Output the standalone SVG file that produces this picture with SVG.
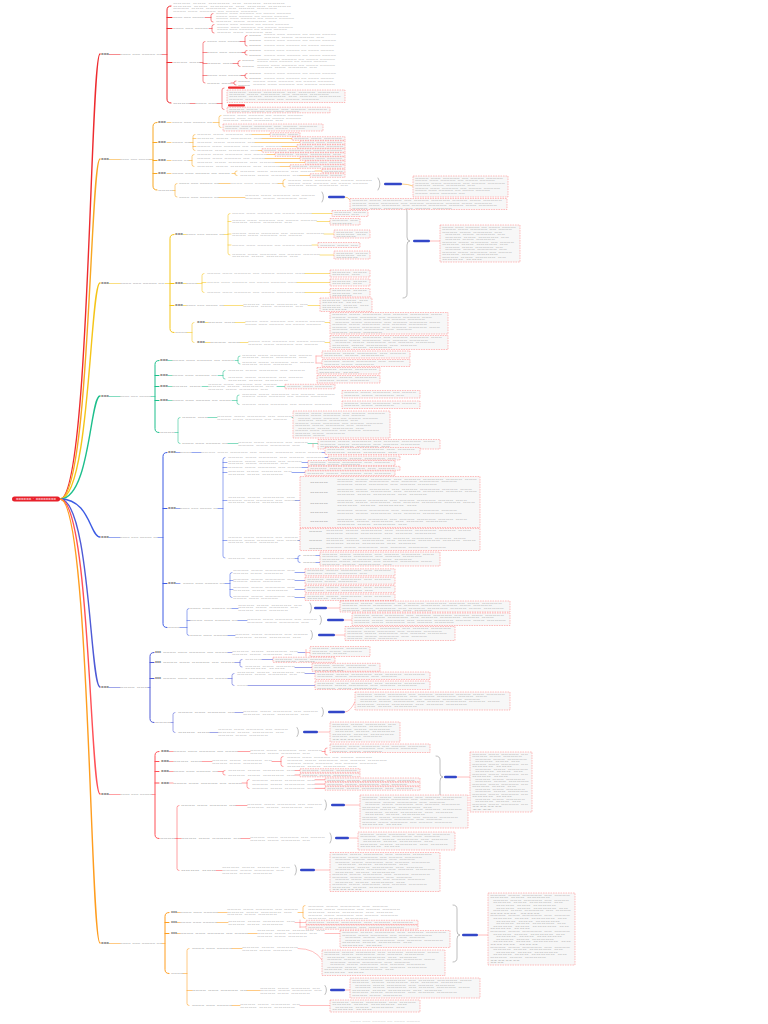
<svg xmlns="http://www.w3.org/2000/svg" width="768" height="1024" viewBox="0 0 768 1024">
<style>
text{font-family:"Liberation Sans",Arial,sans-serif}
.t{font-size:2.2px;fill:#a6a6a6}
.m{font-size:2.4px;fill:#8c8c8c}
.h{font-size:2.6px;fill:#5a5a5a;font-weight:bold}
.c path{fill:none;stroke-width:.55;stroke-linecap:round}
.c .k{stroke-width:1.4}
.c .tk{stroke-width:1}
.s1{stroke:#ee2b2f}.s2{stroke:#f8a722}.s3{stroke:#f5c518}.s4{stroke:#1dbf8c}
.s5{stroke:#3c5be4}.s6{stroke:#4e5ad6}.s7{stroke:#ff5157}.s8{stroke:#ff9d1e}
.lk{stroke:#ff8a8a}.par{stroke:#888}
.bx{fill:#f7f7f7;stroke:#ff7070;stroke-width:.45;stroke-dasharray:1.6 .9}
.pl{fill:#3347c8}.rb{fill:#ee2b2f}
</style>
<rect width="768" height="1024" fill="#fff"/>
<g id="connectors" class="c">
<g class="s1">
<path class="k" d="M60,499 C90,499 90,54 100,54"/>
<path d="M109,54.5 H120 M162,54.5 H167"/>
<path class="tk" d="M171,6 Q167,6 167,10 V99 Q167,103 171,103 M167,17.5 H172 M167,28.5 H172 M167,62.5 H172"/>
<path d="M205,17.5 H211 M213,13.5 Q211,13.5 211,15.5 V20 Q211,22 213,22"/>
<path d="M209,28.5 H212 M214,24.5 Q212,24.5 212,26.5 V31 Q212,33 214,33"/>
<path d="M200,62.5 H203 M205,41.5 Q203,41.5 203,43.5 V81 Q203,83 205,83 M203,52.5 H207 M203,63.5 H207 M203,75.5 H207"/>
<path d="M240,41.5 H245 M247,35.5 Q245,35.5 245,37.5 V44 Q245,46 247,46"/>
<path d="M242,52.5 H245 M247,50.5 Q245,50.5 245,52 V53.5 Q245,55 247,55"/>
<path d="M233,63.5 H238 M240,60.5 Q238,60.5 238,62.5 V64.5 Q238,66.5 240,66.5"/>
<path d="M241,75.5 H245 M247,73.5 Q245,73.5 245,75 V76.5 Q245,78.5 247,78.5"/>
<path d="M231,83 H234 M236,81 Q234,81 234,82.5 V83.5 Q234,85 236,85"/>
<path d="M190,103.5 H195 M217,103.5 H222 M224,88 Q222,88 222,90 V107.5 Q222,109.5 224,109.5"/>
</g>
<g class="s2">
<path class="k" d="M60,499 C90,499 90,159 100,159"/>
<path d="M109,159.5 H120 M150,159.5 H153"/>
<path class="tk" d="M157,122.5 Q153,122.5 153,126.5 V186 Q153,190 157,190 M153,142.5 H157 M153,160.5 H157 M153,173.5 H157"/>
<path d="M167,122.5 H171 M213,122.5 H219 M221,115.5 Q219,115.5 219,117.5 V125.5 Q219,127.5 221,127.5"/>
<path d="M167,142.5 H171 M190,142.5 H193 M195,134.5 Q193,134.5 193,136.5 V148.5 Q193,150.5 195,150.5 M193,138.5 H196 M193,146.5 H196 M252,134.5 H270 M262,138.5 H292 M255,142.5 H300 M282,146.5 H297 M258,150.5 H262"/>
<path d="M167,160.5 H171 M189,160.5 H192 M194,154.5 Q192,154.5 192,156.5 V164.5 Q192,166.5 194,166.5 M267,154.5 H275 M265,158.5 H300 M275,162.5 H305 M280,166.5 H290"/>
<path d="M167,173.5 H171 M232,173.5 H235 M237,171 Q235,171 235,172.5 V174 Q235,175.5 237,175.5 M315,171 H322 M300,175.5 H310"/>
<path d="M173,190.5 H175 M177,183.5 Q175,183.5 175,185.5 V195 Q175,197 177,197"/>
<path d="M219,183.5 H230 M278,183.5 H283 M285,179.5 Q283,179.5 283,181.5 V185 Q283,187 285,187 M402,184 Q408,184 413,186"/>
<path d="M219,197.5 H245 M345,197 Q348,197 350,200"/>
</g>
<g class="s3">
<path class="k" d="M60,499 C90,499 90,283 100,283"/>
<path d="M109,283.5 H120 M165,283.5 H170"/>
<path class="tk" d="M174,234.5 Q170,234.5 170,238.5 V328.5 Q170,332.5 174,332.5 M170,283.5 H174 M170,305.5 H174"/>
<path d="M183,234.5 H186 M224,234.5 H228 M230,213.5 Q228,213.5 228,215.5 V253 Q228,255 230,255 M228,221.5 H231 M228,234 H231 M228,245 H231"/>
<path d="M312,213.5 H332 M317,221.5 H330 M324,234 H334 M312,245 H318 M320,255 H334"/>
<path d="M183,283.5 H186 M197,283.5 H202 M204,273.5 Q202,273.5 202,275.5 V290.5 Q202,292.5 204,292.5 M202,282.5 H206 M305,273.5 H330 M297,282.5 H330 M305,292.5 H330"/>
<path d="M183,305.5 H186 M224,305.5 H243 M308,305.5 H320"/>
<path d="M187,332.5 H192 M194,322.5 Q192,322.5 192,324.5 V340.5 Q192,342.5 194,342.5 M205,322.5 H208 M205,342.5 H210 M235,322.5 H245 M240,342.5 H248 M325,322.5 H330 M325,342.5 H330"/>
</g>
<g class="s4">
<path class="k" d="M60,499 C90,499 90,396 100,396"/>
<path d="M109,396.5 H120 M151,396.5 H155"/>
<path class="tk" d="M159,360.5 Q155,360.5 155,364.5 V428.5 Q155,432.5 159,432.5 M155,375.5 H159 M155,386.5 H159 M155,400.5 H159"/>
<path d="M168,360.5 H172 M235,360.5 H238 M240,356 Q238,356 238,358 V362 Q238,364 240,364"/>
<path d="M168,375.5 H172 M218,375.5 H223 M225,370.5 Q223,370.5 223,372.5 V377 Q223,379 225,379"/>
<path d="M168,386.5 H172 M202,386.5 H208 M277,386.5 H285"/>
<path d="M168,400.5 H172 M232,400.5 H237 M239,395 Q237,395 237,397 V402.5 Q237,404.5 239,404.5"/>
<path d="M175,432.5 H178 M180,417.5 Q178,417.5 178,419.5 V441.5 Q178,443.5 180,443.5 M208,417.5 H217 M292,417.5 H293 M228,443.5 H238 M308,443.5 H318"/>
</g>
<g class="s5">
<path class="k" d="M60,499 C90,499 90,537 100,537"/>
<path d="M109,537.5 H120 M158,537.5 H163"/>
<path class="tk" d="M167,452.5 Q163,452.5 163,456.5 V623.5 Q163,627.5 167,627.5 M163,508.5 H167 M163,583.5 H167"/>
<path d="M176,452.5 H180 M192,452.5 H201 M322,452.5 H325"/>
<path d="M176,508.5 H180 M218,508.5 H223 M225,457.5 Q223,457.5 223,459.5 V556 Q223,558 225,558 M223,462.5 H227 M223,467.5 H227 M223,472.5 H227 M223,500.5 H227 M223,540.5 H227"/>
<path d="M325,457.5 H328 M302,462.5 H308 M302,467.5 H308 M292,472.5 H305 M295,500.5 H302 M298,540.5 H302"/>
<path d="M307,482.5 Q305,482.5 305,484.5 V519.5 Q305,521.5 307,521.5 M305,492.5 H309 M305,503.5 H309 M305,512.5 H309 M328,482.5 H336 M328,492.5 H336 M328,503.5 H336 M328,512.5 H336 M328,521.5 H336"/>
<path d="M307,531.5 Q305,531.5 305,533.5 V546.5 Q305,548.5 307,548.5 M305,540.5 H309 M322,531.5 H325 M322,540.5 H325 M322,548.5 H325"/>
<path d="M295,558.5 H298 M300,555.5 Q298,555.5 298,557 V561 Q298,562.5 300,562.5 M316,555.5 H320 M316,562.5 H320"/>
<path d="M176,583.5 H180 M225,583.5 H230 M232,572.5 Q230,572.5 230,574.5 V595.5 Q230,597.5 232,597.5 M230,580.5 H233 M230,589.5 H233 M295,572.5 H305 M295,580.5 H305 M295,589.5 H305 M295,597.5 H305"/>
<path d="M180,627.5 H187 M189,608.5 Q187,608.5 187,610.5 V633.5 Q187,635.5 189,635.5 M187,620.5 H190 M232,608.5 H238 M238,620.5 H247 M228,635.5 H235"/>
</g>
<g class="s6">
<path class="k" d="M60,499 C90,499 90,687 100,687"/>
<path d="M109,687.5 H120 M148,687.5 H150"/>
<path class="tk" d="M154,652.5 Q150,652.5 150,656.5 V718.5 Q150,722.5 154,722.5 M150,662.5 H154 M150,678.5 H154"/>
<path d="M228,652.5 H232 M298,652.5 H305"/>
<path d="M235,662.5 H240 M242,659.5 Q240,659.5 240,661 V665.5 Q240,667 242,667 M262,659.5 H273 M295,667.5 H312"/>
<path d="M228,678.5 H232 M234,673.5 Q232,673.5 232,675.5 V683.5 Q232,685.5 234,685.5 M305,673.5 H315 M248,685.5 H315"/>
<path d="M171,722.5 H173 M175,712.5 Q173,712.5 173,714.5 V730.5 Q173,732.5 175,732.5 M235,712.5 H243 M210,732.5 H218"/>
</g>
<g class="s7">
<path class="k" d="M60,499 C90,499 90,794 100,794"/>
<path d="M109,794.5 H120 M152,794.5 H155"/>
<path class="tk" d="M159,751.5 Q155,751.5 155,755.5 V834.5 Q155,838.5 159,838.5 M155,761.5 H159 M155,771.5 H159 M155,783 H159"/>
<path d="M169,751.5 H173 M238,751.5 H250 M322,751.5 H325 M327,748 Q325,748 325,749.5 V753.5 Q325,755 327,755"/>
<path d="M169,761.5 H173 M202,761.5 H212 M272,761.5 H281 M283,756.5 Q281,756.5 281,758.5 V764.5 Q281,766.5 283,766.5"/>
<path d="M169,771.5 H173 M218,771.5 H223 M225,770.5 Q223,770.5 223,772 V773.5 Q223,775 225,775 M295,770.5 H300 M295,775 H300"/>
<path d="M169,783 H173 M242,783 H247 M249,779.5 Q247,779.5 247,781.5 V786.5 Q247,788.5 249,788.5 M315,779.8 H325 M315,784.1 H325 M315,788.4 H325"/>
<path d="M175,838.5 H177 M179,805.5 Q177,805.5 177,807.5 V868.5 Q177,870.5 179,870.5 M177,838.5 H181 M236,805.5 H247 M241,838.5 H250 M216,870.5 H222"/>
</g>
<g class="s8">
<path class="k" d="M60,499 C90,499 90,943 100,943"/>
<path d="M109,943.5 H120 M162,943.5 H165"/>
<path class="tk" d="M169,912.5 Q165,912.5 165,916.5 V969.5 Q165,973.5 169,973.5 M165,922.5 H169 M165,933.5 H169"/>
<path d="M177,912.5 H180 M218,912.5 H227 M298,912.5 H303 M305,905.5 Q303,905.5 303,907.5 V916.5 Q303,918.5 305,918.5"/>
<path d="M177,922.5 H180 M217,922.5 H228 M177,933.5 H180 M248,933.5 H257"/>
<path d="M183,973.5 H187 M189,948.5 Q187,948.5 187,950.5 V1003.5 Q187,1005.5 189,1005.5 M187,990.5 H192 M232,948.5 H242 M247,990.5 H260 M232,1005.5 H240"/>
</g>
<g class="lk">
<path d="M295,922.5 H300 M300,920 V927.5 M300,922.5 H306 M300,927 H306"/>
<path d="M325,933.5 H340 M298,948.5 Q315,948.5 322,960 M345,990 H350 M300,1005.5 H330 M478,935 H488"/>
<path d="M345,805 H360 M349,838 H358 M315,870 H330 M457,777 H470 M318,667.5 H312"/>
<path d="M345,712 Q350,712 355,702 M318,732 H330 M306,649.5 V656 M306,652.5 H310"/>
<path d="M327,608 H340 M344,620 H352 M335,635 H345 M430,241 H440 M316,356 V363 M316,356 H322 M316,363 H322 M313,443.5 V447"/>
</g>
<g class="par">
<path d="M310,603 Q313,608 310,613 M320,615.5 Q323,620 320,624.5 M311,630.5 Q314,635 311,639.5"/>
<path d="M322,707.5 Q325,712 322,716.5 M297,727.5 Q300,732 297,736.5"/>
<path d="M325,800 Q328,805 325,810 M330,833 Q333,838 330,843 M295,865 Q298,870 295,875"/>
<path d="M325,985.5 Q328,990 325,994.5"/>
<path d="M378,178 Q382,184 378,190 M322,192 Q325,197 322,202"/>
<path d="M403,208 Q407,208 407,212 V237 Q407,241 410,241 Q407,241 407,245 V294 Q407,298 403,298"/>
<path d="M436,756 Q440,756 440,760 V773 Q440,777 443,777 Q440,777 440,781 V796 Q440,800 436,800"/>
<path d="M453,905 Q457,905 457,909 V931 Q457,935 460,935 Q457,935 457,939 V958 Q457,962 453,962"/>
</g>
</g>
<g id="root"><rect x="12" y="496.5" width="48" height="5" rx="2.5" fill="#e8202a"/><text x="16" y="500" font-size="2.8" fill="#fff" textLength="40" lengthAdjust="spacingAndGlyphs">xxxxxx · xxxxxxxx</text></g>
<g id="n1">
<text class="h" x="101" y="55.3" textLength="8" lengthAdjust="spacingAndGlyphs">xxx</text>
<text class="m" x="120" y="55.3" textLength="42" lengthAdjust="spacingAndGlyphs">xxxx xxx xxxxx xx</text>
<g id="n1-1"><text class="t" x="173" y="4.3" textLength="112" lengthAdjust="spacingAndGlyphs">xxxx xxx xxxxx xx xxxx xxxxx</text><text class="t" x="173" y="6.8" textLength="118" lengthAdjust="spacingAndGlyphs">xxxx xxx xxxxx xx xxxx xxxxx</text><text class="t" x="173" y="9.3" textLength="104" lengthAdjust="spacingAndGlyphs">xxxx xxx xxxxx xx xxxx xxxxx</text><text class="t" x="173" y="11.8" textLength="84" lengthAdjust="spacingAndGlyphs">xxxx xxx xxxxx xx xxxx xxxxx</text></g>
<g id="n1-2"><text class="m" x="173" y="18.3" textLength="31" lengthAdjust="spacingAndGlyphs">xxxx xxx xxxxx</text><text class="t" x="216" y="14.3" textLength="75" lengthAdjust="spacingAndGlyphs">xxxx xxx xxxxx xx xxxx xxxxx</text><text class="t" x="216" y="16.8" textLength="72" lengthAdjust="spacingAndGlyphs">xxxx xxx xxxxx xx xxxx xxxxx</text><text class="t" x="216" y="19.3" textLength="78" lengthAdjust="spacingAndGlyphs">xxxx xxx xxxxx xx xxxx xxxxx</text><text class="t" x="216" y="21.8" textLength="60" lengthAdjust="spacingAndGlyphs">xxxx xxx xxxxx xx</text></g>
<g id="n1-3"><text class="m" x="173" y="29.3" textLength="35" lengthAdjust="spacingAndGlyphs">xxxx xxx xxxxx</text><text class="t" x="217" y="25.3" textLength="72" lengthAdjust="spacingAndGlyphs">xxxx xxx xxxxx xx xxxx xxxxx</text><text class="t" x="217" y="27.8" textLength="76" lengthAdjust="spacingAndGlyphs">xxxx xxx xxxxx xx xxxx xxxxx</text><text class="t" x="217" y="30.3" textLength="70" lengthAdjust="spacingAndGlyphs">xxxx xxx xxxxx xx xxxx xxxxx</text><text class="t" x="217" y="32.8" textLength="55" lengthAdjust="spacingAndGlyphs">xxxx xxx xxxxx xx</text></g>
<g id="n1-4"><text class="m" x="173" y="63.3" textLength="27" lengthAdjust="spacingAndGlyphs">xxxx xxx</text>
<text class="m" x="207" y="42.3" textLength="33" lengthAdjust="spacingAndGlyphs">xxxx xxx xxxxx</text><text class="m" x="249" y="36.3" textLength="12" lengthAdjust="spacingAndGlyphs">xxxx</text><text class="t" x="264" y="35.3" textLength="72" lengthAdjust="spacingAndGlyphs">xxxx xxx xxxxx xx xxxx xxxxx</text><text class="t" x="264" y="37.6" textLength="60" lengthAdjust="spacingAndGlyphs">xxxx xxx xxxxx xx</text><text class="m" x="249" y="41.3" textLength="12" lengthAdjust="spacingAndGlyphs">xxxx</text><text class="t" x="264" y="41" textLength="72" lengthAdjust="spacingAndGlyphs">xxxx xxx xxxxx xx xxxx xxxxx</text><text class="m" x="249" y="46.3" textLength="12" lengthAdjust="spacingAndGlyphs">xxxx</text><text class="t" x="264" y="46" textLength="70" lengthAdjust="spacingAndGlyphs">xxxx xxx xxxxx xx xxxx xxxxx</text>
<text class="m" x="207" y="53.3" textLength="35" lengthAdjust="spacingAndGlyphs">xxxx xxx xxxxx</text><text class="m" x="249" y="51.3" textLength="12" lengthAdjust="spacingAndGlyphs">xxxx</text><text class="t" x="264" y="51" textLength="70" lengthAdjust="spacingAndGlyphs">xxxx xxx xxxxx xx xxxx xxxxx</text><text class="m" x="249" y="55.8" textLength="12" lengthAdjust="spacingAndGlyphs">xxxx</text><text class="t" x="264" y="55.5" textLength="72" lengthAdjust="spacingAndGlyphs">xxxx xxx xxxxx xx xxxx xxxxx</text>
<text class="m" x="207" y="64.3" textLength="26" lengthAdjust="spacingAndGlyphs">xxxx xxx</text><text class="m" x="242" y="61.3" textLength="12" lengthAdjust="spacingAndGlyphs">xxxx</text><text class="t" x="257" y="59.8" textLength="78" lengthAdjust="spacingAndGlyphs">xxxx xxx xxxxx xx xxxx xxxxx</text><text class="t" x="257" y="62.1" textLength="70" lengthAdjust="spacingAndGlyphs">xxxx xxx xxxxx xx xxxx xxxxx</text><text class="m" x="242" y="67.3" textLength="12" lengthAdjust="spacingAndGlyphs">xxxx</text><text class="t" x="257" y="65.8" textLength="78" lengthAdjust="spacingAndGlyphs">xxxx xxx xxxxx xx xxxx xxxxx</text><text class="t" x="257" y="68.1" textLength="60" lengthAdjust="spacingAndGlyphs">xxxx xxx xxxxx xx</text>
<text class="m" x="207" y="76.3" textLength="34" lengthAdjust="spacingAndGlyphs">xxxx xxx xxxxx</text><text class="m" x="249" y="74.3" textLength="12" lengthAdjust="spacingAndGlyphs">xxxx</text><text class="t" x="264" y="74" textLength="72" lengthAdjust="spacingAndGlyphs">xxxx xxx xxxxx xx xxxx xxxxx</text><text class="m" x="249" y="79.1" textLength="12" lengthAdjust="spacingAndGlyphs">xxxx</text><text class="t" x="264" y="78.8" textLength="70" lengthAdjust="spacingAndGlyphs">xxxx xxx xxxxx xx xxxx xxxxx</text>
<text class="m" x="207" y="83.6" textLength="24" lengthAdjust="spacingAndGlyphs">xxxx xxx</text><text class="m" x="238" y="81.8" textLength="12" lengthAdjust="spacingAndGlyphs">xxxx</text><text class="t" x="253" y="81.5" textLength="80" lengthAdjust="spacingAndGlyphs">xxxx xxx xxxxx xx xxxx xxxxx</text><text class="m" x="238" y="85.6" textLength="12" lengthAdjust="spacingAndGlyphs">xxxx</text><text class="t" x="253" y="85.3" textLength="82" lengthAdjust="spacingAndGlyphs">xxxx xxx xxxxx xx xxxx xxxxx</text></g>
<g id="n1-5"><text class="m" x="173" y="104.3" textLength="17" lengthAdjust="spacingAndGlyphs">xxxx</text><text class="m" x="195" y="104.3" textLength="22" lengthAdjust="spacingAndGlyphs">xxxx xxx</text>
<rect class="rb" x="228" y="86.6" width="17" height="2.2" rx="1"/>
<rect class="bx" x="227" y="90" width="118" height="12.5"/><text class="t" x="229" y="92.5" textLength="110" lengthAdjust="spacingAndGlyphs">xxxx xxx xxxxx xx xxxx xxxxx</text><text class="t" x="229" y="94.9" textLength="100" lengthAdjust="spacingAndGlyphs">xxxx xxx xxxxx xx xxxx xxxxx</text><text class="t" x="229" y="97.3" textLength="112" lengthAdjust="spacingAndGlyphs">xxxx xxx xxxxx xx xxxx xxxxx</text><text class="t" x="229" y="99.7" textLength="90" lengthAdjust="spacingAndGlyphs">xxxx xxx xxxxx xx xxxx xxxxx</text>
<rect class="rb" x="228" y="104.2" width="17" height="2.2" rx="1"/>
<rect class="bx" x="227" y="107.2" width="103" height="5.6"/><text class="t" x="229" y="109.5" textLength="98" lengthAdjust="spacingAndGlyphs">xxxx xxx xxxxx xx xxxx xxxxx</text><text class="t" x="229" y="111.9" textLength="70" lengthAdjust="spacingAndGlyphs">xxxx xxx xxxxx xx xxxx xxxxx</text></g>
</g>
<g id="n2">
<text class="h" x="101" y="160.3" textLength="8" lengthAdjust="spacingAndGlyphs">xxx</text>
<text class="m" x="120" y="160.3" textLength="30" lengthAdjust="spacingAndGlyphs">xxxx xxx xxxxx</text>
<g id="n2-1"><text class="h" x="158" y="123.3" textLength="8" lengthAdjust="spacingAndGlyphs">xxx</text><text class="m" x="172" y="123.3" textLength="40" lengthAdjust="spacingAndGlyphs">xxxx xxx xxxxx xx</text><text class="t" x="223" y="116.3" textLength="80" lengthAdjust="spacingAndGlyphs">xxxx xxx xxxxx xx xxxx xxxxx</text><text class="t" x="223" y="118.8" textLength="78" lengthAdjust="spacingAndGlyphs">xxxx xxx xxxxx xx xxxx xxxxx</text><text class="t" x="223" y="121.3" textLength="60" lengthAdjust="spacingAndGlyphs">xxxx xxx xxxxx xx</text><rect class="bx" x="223" y="124" width="100" height="7"/><text class="t" x="225" y="126.6" textLength="92" lengthAdjust="spacingAndGlyphs">xxxx xxx xxxxx xx xxxx xxxxx</text><text class="t" x="225" y="129.3" textLength="80" lengthAdjust="spacingAndGlyphs">xxxx xxx xxxxx xx xxxx xxxxx</text></g>
<g id="n2-2"><text class="h" x="158" y="143.3" textLength="8" lengthAdjust="spacingAndGlyphs">xxx</text><text class="m" x="172" y="143.3" textLength="18" lengthAdjust="spacingAndGlyphs">xxxx xx</text>
<text class="t" x="197" y="135.3" textLength="55" lengthAdjust="spacingAndGlyphs">xxxx xxx xxxxx xx</text><rect class="bx" x="270" y="132.7" width="30" height="3.6"/><text class="t" x="272" y="135.3" textLength="26" lengthAdjust="spacingAndGlyphs">xxxx xxx</text>
<text class="t" x="197" y="139.3" textLength="65" lengthAdjust="spacingAndGlyphs">xxxx xxx xxxxx xx</text><rect class="bx" x="292" y="136.7" width="53" height="3.6"/><text class="t" x="294" y="139.3" textLength="48" lengthAdjust="spacingAndGlyphs">xxxx xxx xxxxx</text>
<text class="t" x="197" y="143.3" textLength="58" lengthAdjust="spacingAndGlyphs">xxxx xxx xxxxx xx</text><rect class="bx" x="300" y="140.7" width="45" height="3.6"/><text class="t" x="302" y="143.3" textLength="40" lengthAdjust="spacingAndGlyphs">xxxx xxx xxxxx</text>
<text class="t" x="197" y="147.3" textLength="85" lengthAdjust="spacingAndGlyphs">xxxx xxx xxxxx xx xxxx xxxxx</text><rect class="bx" x="297" y="144.7" width="48" height="3.6"/><text class="t" x="299" y="147.3" textLength="44" lengthAdjust="spacingAndGlyphs">xxxx xxx xxxxx</text>
<text class="t" x="197" y="151.3" textLength="61" lengthAdjust="spacingAndGlyphs">xxxx xxx xxxxx xx</text><rect class="bx" x="262" y="148.7" width="83" height="3.6"/><text class="t" x="264" y="151.3" textLength="78" lengthAdjust="spacingAndGlyphs">xxxx xxx xxxxx xx xxxx xxxxx</text></g>
<g id="n2-3"><text class="h" x="158" y="161.3" textLength="8" lengthAdjust="spacingAndGlyphs">xxx</text><text class="m" x="172" y="161.3" textLength="17" lengthAdjust="spacingAndGlyphs">xxxx xx</text>
<text class="t" x="197" y="155.3" textLength="70" lengthAdjust="spacingAndGlyphs">xxxx xxx xxxxx xx xxxx</text><rect class="bx" x="275" y="152.7" width="70" height="3.6"/><text class="t" x="277" y="155.3" textLength="64" lengthAdjust="spacingAndGlyphs">xxxx xxx xxxxx xx</text>
<text class="t" x="197" y="159.3" textLength="68" lengthAdjust="spacingAndGlyphs">xxxx xxx xxxxx xx xxxx</text><rect class="bx" x="300" y="156.7" width="45" height="3.6"/><text class="t" x="302" y="159.3" textLength="40" lengthAdjust="spacingAndGlyphs">xxxx xxx xxxxx</text>
<text class="t" x="197" y="163.3" textLength="78" lengthAdjust="spacingAndGlyphs">xxxx xxx xxxxx xx xxxx</text><rect class="bx" x="305" y="160.7" width="40" height="3.6"/><text class="t" x="307" y="163.3" textLength="35" lengthAdjust="spacingAndGlyphs">xxxx xxx xxxxx</text>
<text class="t" x="197" y="167.3" textLength="83" lengthAdjust="spacingAndGlyphs">xxxx xxx xxxxx xx xxxx</text><rect class="bx" x="290" y="164.7" width="55" height="3.6"/><text class="t" x="292" y="167.3" textLength="50" lengthAdjust="spacingAndGlyphs">xxxx xxx xxxxx</text></g>
<g id="n2-4"><text class="h" x="158" y="174.3" textLength="8" lengthAdjust="spacingAndGlyphs">xxx</text><text class="m" x="172" y="174.3" textLength="58" lengthAdjust="spacingAndGlyphs">xxxx xxx xxxxx xx xxxx</text>
<text class="t" x="240" y="171.8" textLength="75" lengthAdjust="spacingAndGlyphs">xxxx xxx xxxxx xx xxxx</text><rect class="bx" x="322" y="169.2" width="23" height="3.6"/><text class="t" x="324" y="171.8" textLength="19" lengthAdjust="spacingAndGlyphs">xxxx</text>
<text class="t" x="240" y="176.3" textLength="60" lengthAdjust="spacingAndGlyphs">xxxx xxx xxxxx xx</text><rect class="bx" x="310" y="173.7" width="35" height="3.6"/><text class="t" x="312" y="176.3" textLength="30" lengthAdjust="spacingAndGlyphs">xxxx xxx</text></g>
<g id="n2-5"><text class="m" x="158" y="191.3" textLength="15" lengthAdjust="spacingAndGlyphs">xxxx</text>
<text class="m" x="179" y="184.3" textLength="40" lengthAdjust="spacingAndGlyphs">xxxx xxx xxxxx xx</text><text class="t" x="230" y="184.3" textLength="48" lengthAdjust="spacingAndGlyphs">xxxx xxx xxxxx xx</text>
<text class="t" x="288" y="181" textLength="84" lengthAdjust="spacingAndGlyphs">xxxx xxx xxxxx xx xxxx xxxxx</text><text class="t" x="288" y="183.7" textLength="80" lengthAdjust="spacingAndGlyphs">xxxx xxx xxxxx xx xxxx xxxxx</text><text class="t" x="288" y="186.4" textLength="60" lengthAdjust="spacingAndGlyphs">xxxx xxx xxxxx xx</text>
<rect class="pl" x="384" y="182.7" width="18" height="2.6" rx="1.3"/>
<rect class="bx" x="413" y="176" width="95" height="21"/><text class="t" x="415" y="178.6" textLength="88" lengthAdjust="spacingAndGlyphs">xxxx xxx xxxxx xx xxxx xxxxx</text><text class="t" x="415" y="181.1" textLength="80" lengthAdjust="spacingAndGlyphs">xxxx xxx xxxxx xx xxxx xxxxx</text><text class="t" x="415" y="183.6" textLength="90" lengthAdjust="spacingAndGlyphs">xxxx xxx xxxxx xx xxxx xxxxx</text><text class="t" x="415" y="186.1" textLength="60" lengthAdjust="spacingAndGlyphs">xxxx xxx xxxxx xx</text><text class="t" x="415" y="188.6" textLength="85" lengthAdjust="spacingAndGlyphs">xxxx xxx xxxxx xx xxxx xxxxx</text><text class="t" x="415" y="191.1" textLength="75" lengthAdjust="spacingAndGlyphs">xxxx xxx xxxxx xx xxxx xxxxx</text><text class="t" x="415" y="193.6" textLength="50" lengthAdjust="spacingAndGlyphs">xxxx xxx xxxxx xx</text>
<text class="m" x="179" y="198.3" textLength="40" lengthAdjust="spacingAndGlyphs">xxxx xxx xxxxx xx</text><text class="t" x="245" y="196.2" textLength="70" lengthAdjust="spacingAndGlyphs">xxxx xxx xxxxx xx xxxx</text><text class="t" x="245" y="198.9" textLength="62" lengthAdjust="spacingAndGlyphs">xxxx xxx xxxxx xx</text>
<rect class="pl" x="328" y="195.7" width="17" height="2.6" rx="1.3"/>
<rect class="bx" x="350" y="198.5" width="157" height="11"/><text class="t" x="352" y="201" textLength="150" lengthAdjust="spacingAndGlyphs">xxxx xxx xxxxx xx xxxx xxxxx xxxx xxx xxxxx</text><text class="t" x="352" y="203.5" textLength="140" lengthAdjust="spacingAndGlyphs">xxxx xxx xxxxx xx xxxx xxxxx xxxx xxx xxxxx</text><text class="t" x="352" y="206" textLength="145" lengthAdjust="spacingAndGlyphs">xxxx xxx xxxxx xx xxxx xxxxx xxxx xxx xxxxx</text><text class="t" x="352" y="208.5" textLength="100" lengthAdjust="spacingAndGlyphs">xxxx xxx xxxxx xx xxxx xxxxx</text></g>
</g>
<g id="n3">
<text class="h" x="101" y="284.3" textLength="8" lengthAdjust="spacingAndGlyphs">xxx</text>
<text class="m" x="120" y="284.3" textLength="44" lengthAdjust="spacingAndGlyphs">xxxx xxx xxxxx xx</text>
<g id="n3-1"><text class="h" x="175" y="235.3" textLength="8" lengthAdjust="spacingAndGlyphs">xxx</text><text class="m" x="186" y="235.3" textLength="38" lengthAdjust="spacingAndGlyphs">xxxx xxx xxxxx xx</text>
<text class="t" x="232" y="214.3" textLength="80" lengthAdjust="spacingAndGlyphs">xxxx xxx xxxxx xx xxxx xxxxx</text>
<text class="t" x="232" y="220.8" textLength="85" lengthAdjust="spacingAndGlyphs">xxxx xxx xxxxx xx xxxx xxxxx</text><text class="t" x="232" y="223.3" textLength="60" lengthAdjust="spacingAndGlyphs">xxxx xxx xxxxx xx</text>
<text class="t" x="232" y="233.5" textLength="92" lengthAdjust="spacingAndGlyphs">xxxx xxx xxxxx xx xxxx xxxxx</text><text class="t" x="232" y="236" textLength="70" lengthAdjust="spacingAndGlyphs">xxxx xxx xxxxx xx xxxx</text>
<text class="t" x="232" y="245.8" textLength="80" lengthAdjust="spacingAndGlyphs">xxxx xxx xxxxx xx xxxx xxxxx</text>
<text class="t" x="232" y="254.5" textLength="88" lengthAdjust="spacingAndGlyphs">xxxx xxx xxxxx xx xxxx xxxxx</text><text class="t" x="232" y="257" textLength="66" lengthAdjust="spacingAndGlyphs">xxxx xxx xxxxx xx</text>
<rect class="bx" x="332" y="210.5" width="36" height="6"/><text class="t" x="334" y="212.9" textLength="32" lengthAdjust="spacingAndGlyphs">xxxx xxx</text><text class="t" x="334" y="215.3" textLength="25" lengthAdjust="spacingAndGlyphs">xxxx xx</text>
<rect class="bx" x="330" y="218.5" width="30" height="6.5"/><text class="t" x="332" y="221" textLength="26" lengthAdjust="spacingAndGlyphs">xxxx xx</text><text class="t" x="332" y="223.5" textLength="20" lengthAdjust="spacingAndGlyphs">xxxx</text>
<rect class="bx" x="334" y="230" width="36" height="8"/><text class="t" x="336" y="232.5" textLength="32" lengthAdjust="spacingAndGlyphs">xxxx xxx</text><text class="t" x="336" y="235" textLength="30" lengthAdjust="spacingAndGlyphs">xxxx xx</text><text class="t" x="336" y="237.3" textLength="20" lengthAdjust="spacingAndGlyphs">xxxx</text>
<rect class="bx" x="318" y="242.5" width="42" height="5"/><text class="t" x="320" y="245.8" textLength="38" lengthAdjust="spacingAndGlyphs">xxxx xxx xx</text>
<rect class="bx" x="334" y="251" width="36" height="8"/><text class="t" x="336" y="253.5" textLength="32" lengthAdjust="spacingAndGlyphs">xxxx xxx</text><text class="t" x="336" y="256" textLength="30" lengthAdjust="spacingAndGlyphs">xxxx xx</text><text class="t" x="336" y="258.3" textLength="22" lengthAdjust="spacingAndGlyphs">xxxx</text>
<rect class="pl" x="413" y="239.7" width="17" height="2.6" rx="1.3"/>
<rect class="bx" x="440" y="225" width="80" height="37"/><text class="t" x="442" y="227.6" textLength="74" lengthAdjust="spacingAndGlyphs">xxxx xxx xxxxx xx xxxx xxxxx</text><text class="t" x="442" y="230.1" textLength="70" lengthAdjust="spacingAndGlyphs">xxxx xxx xxxxx xx xxxx</text><text class="t" x="442" y="232.6" textLength="60" lengthAdjust="spacingAndGlyphs">xxxx xxx xxxxx xx</text><text class="t" x="445" y="235.1" textLength="60" lengthAdjust="spacingAndGlyphs">xxxx xxx xxxxx xx</text><text class="t" x="445" y="237.6" textLength="64" lengthAdjust="spacingAndGlyphs">xxxx xxx xxxxx xx</text><text class="t" x="445" y="240.1" textLength="50" lengthAdjust="spacingAndGlyphs">xxxx xxx xxxxx</text><text class="t" x="442" y="242.6" textLength="72" lengthAdjust="spacingAndGlyphs">xxxx xxx xxxxx xx xxxx</text><text class="t" x="442" y="245.1" textLength="66" lengthAdjust="spacingAndGlyphs">xxxx xxx xxxxx xx</text><text class="t" x="445" y="247.6" textLength="58" lengthAdjust="spacingAndGlyphs">xxxx xxx xxxxx xx</text><text class="t" x="445" y="250.1" textLength="62" lengthAdjust="spacingAndGlyphs">xxxx xxx xxxxx xx</text><text class="t" x="442" y="252.6" textLength="70" lengthAdjust="spacingAndGlyphs">xxxx xxx xxxxx xx xxxx</text><text class="t" x="442" y="255.1" textLength="56" lengthAdjust="spacingAndGlyphs">xxxx xxx xxxxx</text><text class="t" x="442" y="257.6" textLength="64" lengthAdjust="spacingAndGlyphs">xxxx xxx xxxxx xx</text><text class="t" x="442" y="260.1" textLength="40" lengthAdjust="spacingAndGlyphs">xxxx xxx</text></g>
<g id="n3-2"><text class="h" x="175" y="284.3" textLength="8" lengthAdjust="spacingAndGlyphs">xxx</text><text class="m" x="186" y="284.3" textLength="11" lengthAdjust="spacingAndGlyphs">xxxx</text>
<text class="t" x="207" y="274.3" textLength="98" lengthAdjust="spacingAndGlyphs">xxxx xxx xxxxx xx xxxx xxxxx xxx</text><text class="t" x="207" y="283.3" textLength="90" lengthAdjust="spacingAndGlyphs">xxxx xxx xxxxx xx xxxx xxxxx xxx</text><text class="t" x="207" y="293.3" textLength="98" lengthAdjust="spacingAndGlyphs">xxxx xxx xxxxx xx xxxx xxxxx xxx</text>
<rect class="bx" x="330" y="270" width="40" height="7"/><text class="t" x="332" y="272.5" textLength="35" lengthAdjust="spacingAndGlyphs">xxxx xxx</text><text class="t" x="332" y="275" textLength="28" lengthAdjust="spacingAndGlyphs">xxxx xx</text>
<rect class="bx" x="330" y="279" width="40" height="7"/><text class="t" x="332" y="281.5" textLength="35" lengthAdjust="spacingAndGlyphs">xxxx xxx</text><text class="t" x="332" y="284" textLength="30" lengthAdjust="spacingAndGlyphs">xxxx xx</text>
<rect class="bx" x="330" y="288.5" width="40" height="8.5"/><text class="t" x="332" y="291" textLength="35" lengthAdjust="spacingAndGlyphs">xxxx xxx</text><text class="t" x="332" y="293.5" textLength="30" lengthAdjust="spacingAndGlyphs">xxxx xx</text><text class="t" x="332" y="296" textLength="20" lengthAdjust="spacingAndGlyphs">xxxx</text></g>
<g id="n3-3"><text class="h" x="175" y="306.3" textLength="8" lengthAdjust="spacingAndGlyphs">xxx</text><text class="m" x="186" y="306.3" textLength="38" lengthAdjust="spacingAndGlyphs">xxxx xxx xxxxx xx</text><text class="t" x="243" y="304.6" textLength="65" lengthAdjust="spacingAndGlyphs">xxxx xxx xxxxx xx</text><text class="t" x="243" y="307.3" textLength="60" lengthAdjust="spacingAndGlyphs">xxxx xxx xxxxx xx</text>
<rect class="bx" x="320" y="298" width="52" height="13.5"/><text class="t" x="322" y="300.5" textLength="46" lengthAdjust="spacingAndGlyphs">xxxx xxx xx</text><text class="t" x="322" y="303" textLength="40" lengthAdjust="spacingAndGlyphs">xxxx xxx</text><text class="t" x="322" y="305.5" textLength="47" lengthAdjust="spacingAndGlyphs">xxxx xxx xx</text><text class="t" x="322" y="308" textLength="36" lengthAdjust="spacingAndGlyphs">xxxx xxx</text><text class="t" x="322" y="310.4" textLength="25" lengthAdjust="spacingAndGlyphs">xxxx</text></g>
<g id="n3-4"><text class="m" x="175" y="333.3" textLength="12" lengthAdjust="spacingAndGlyphs">xxxx</text>
<text class="h" x="197" y="323.3" textLength="8" lengthAdjust="spacingAndGlyphs">xxx</text><text class="m" x="208" y="323.3" textLength="27" lengthAdjust="spacingAndGlyphs">xxxx xxx</text><text class="t" x="245" y="321.8" textLength="80" lengthAdjust="spacingAndGlyphs">xxxx xxx xxxxx xx xxxx xxxxx</text><text class="t" x="245" y="324.5" textLength="76" lengthAdjust="spacingAndGlyphs">xxxx xxx xxxxx xx xxxx xxxxx</text>
<rect class="bx" x="330" y="312.5" width="118" height="21.5"/><text class="t" x="332" y="315" textLength="110" lengthAdjust="spacingAndGlyphs">xxxx xxx xxxxx xx xxxx xxxxx xxx</text><text class="t" x="332" y="317.5" textLength="100" lengthAdjust="spacingAndGlyphs">xxxx xxx xxxxx xx xxxx xxxxx xxx</text><text class="t" x="335" y="320" textLength="90" lengthAdjust="spacingAndGlyphs">xxxx xxx xxxxx xx xxxx xxxxx</text><text class="t" x="335" y="322.5" textLength="105" lengthAdjust="spacingAndGlyphs">xxxx xxx xxxxx xx xxxx xxxxx xxx</text><text class="t" x="332" y="325" textLength="95" lengthAdjust="spacingAndGlyphs">xxxx xxx xxxxx xx xxxx xxxxx</text><text class="t" x="332" y="327.5" textLength="108" lengthAdjust="spacingAndGlyphs">xxxx xxx xxxxx xx xxxx xxxxx xxx</text><text class="t" x="332" y="330" textLength="80" lengthAdjust="spacingAndGlyphs">xxxx xxx xxxxx xx xxxx</text><text class="t" x="332" y="332.5" textLength="50" lengthAdjust="spacingAndGlyphs">xxxx xxx xxxxx</text>
<text class="h" x="197" y="343.3" textLength="8" lengthAdjust="spacingAndGlyphs">xxx</text><text class="m" x="210" y="343.3" textLength="30" lengthAdjust="spacingAndGlyphs">xxxx xxx</text><text class="t" x="248" y="341.8" textLength="77" lengthAdjust="spacingAndGlyphs">xxxx xxx xxxxx xx xxxx xxxxx</text><text class="t" x="248" y="344.5" textLength="70" lengthAdjust="spacingAndGlyphs">xxxx xxx xxxxx xx xxxx</text>
<rect class="bx" x="330" y="335.5" width="118" height="14"/><text class="t" x="332" y="338" textLength="110" lengthAdjust="spacingAndGlyphs">xxxx xxx xxxxx xx xxxx xxxxx xxx</text><text class="t" x="332" y="340.5" textLength="96" lengthAdjust="spacingAndGlyphs">xxxx xxx xxxxx xx xxxx xxxxx</text><text class="t" x="335" y="343" textLength="100" lengthAdjust="spacingAndGlyphs">xxxx xxx xxxxx xx xxxx xxxxx</text><text class="t" x="332" y="345.5" textLength="85" lengthAdjust="spacingAndGlyphs">xxxx xxx xxxxx xx xxxx</text><text class="t" x="332" y="348" textLength="60" lengthAdjust="spacingAndGlyphs">xxxx xxx xxxxx</text></g>
</g>
<g id="n4">
<text class="h" x="101" y="397.3" textLength="8" lengthAdjust="spacingAndGlyphs">xxx</text>
<text class="m" x="120" y="397.3" textLength="31" lengthAdjust="spacingAndGlyphs">xxxx xxx xxxxx</text>
<g id="n4-1"><text class="h" x="160" y="361.3" textLength="8" lengthAdjust="spacingAndGlyphs">xxx</text><text class="m" x="172" y="361.3" textLength="62" lengthAdjust="spacingAndGlyphs">xxxx xxx xxxxx xx xxxx</text><text class="t" x="242" y="355.8" textLength="70" lengthAdjust="spacingAndGlyphs">xxxx xxx xxxxx xx xxxx</text><text class="t" x="242" y="358.3" textLength="65" lengthAdjust="spacingAndGlyphs">xxxx xxx xxxxx xx</text><text class="t" x="242" y="362.8" textLength="72" lengthAdjust="spacingAndGlyphs">xxxx xxx xxxxx xx xxxx</text><text class="t" x="242" y="365.3" textLength="50" lengthAdjust="spacingAndGlyphs">xxxx xxx xxxxx</text>
<rect class="bx" x="322" y="351" width="88" height="7"/><text class="t" x="324" y="353.5" textLength="82" lengthAdjust="spacingAndGlyphs">xxxx xxx xxxxx xx xxxx</text><text class="t" x="324" y="356" textLength="60" lengthAdjust="spacingAndGlyphs">xxxx xxx xxxxx</text>
<rect class="bx" x="322" y="359.5" width="88" height="7"/><text class="t" x="324" y="362" textLength="80" lengthAdjust="spacingAndGlyphs">xxxx xxx xxxxx xx xxxx</text><text class="t" x="324" y="364.5" textLength="50" lengthAdjust="spacingAndGlyphs">xxxx xxx xxxxx</text></g>
<g id="n4-2"><text class="h" x="160" y="376.3" textLength="8" lengthAdjust="spacingAndGlyphs">xxx</text><text class="m" x="172" y="376.3" textLength="45" lengthAdjust="spacingAndGlyphs">xxxx xxx xxxxx xx</text><text class="t" x="228" y="371.3" textLength="77" lengthAdjust="spacingAndGlyphs">xxxx xxx xxxxx xx xxxx</text><text class="t" x="228" y="378.3" textLength="75" lengthAdjust="spacingAndGlyphs">xxxx xxx xxxxx xx xxxx</text><text class="t" x="228" y="380.8" textLength="60" lengthAdjust="spacingAndGlyphs">xxxx xxx xxxxx</text>
<rect class="bx" x="317" y="367.5" width="63" height="6.5"/><text class="t" x="319" y="370" textLength="58" lengthAdjust="spacingAndGlyphs">xxxx xxx xxxxx</text><text class="t" x="319" y="372.5" textLength="40" lengthAdjust="spacingAndGlyphs">xxxx xxx</text>
<rect class="bx" x="317" y="375.5" width="63" height="7.5"/><text class="t" x="319" y="378" textLength="58" lengthAdjust="spacingAndGlyphs">xxxx xxx xxxxx</text><text class="t" x="319" y="380.5" textLength="50" lengthAdjust="spacingAndGlyphs">xxxx xxx xxxxx</text></g>
<g id="n4-3"><text class="h" x="160" y="387.3" textLength="8" lengthAdjust="spacingAndGlyphs">xxx</text><text class="m" x="172" y="387.3" textLength="29" lengthAdjust="spacingAndGlyphs">xxxx xxx</text><text class="t" x="208" y="384.8" textLength="69" lengthAdjust="spacingAndGlyphs">xxxx xxx xxxxx xx xxxx</text><text class="t" x="208" y="387.3" textLength="66" lengthAdjust="spacingAndGlyphs">xxxx xxx xxxxx xx</text><text class="t" x="208" y="389.8" textLength="60" lengthAdjust="spacingAndGlyphs">xxxx xxx xxxxx xx</text>
<rect class="bx" x="285" y="384.3" width="50" height="4.5"/><text class="t" x="287" y="387.3" textLength="45" lengthAdjust="spacingAndGlyphs">xxxx xxx xxxxx</text></g>
<g id="n4-4"><text class="h" x="160" y="401.3" textLength="8" lengthAdjust="spacingAndGlyphs">xxx</text><text class="m" x="172" y="401.3" textLength="59" lengthAdjust="spacingAndGlyphs">xxxx xxx xxxxx xx xxxx</text><text class="t" x="242" y="394.8" textLength="93" lengthAdjust="spacingAndGlyphs">xxxx xxx xxxxx xx xxxx xxxxx</text><text class="t" x="242" y="397.3" textLength="85" lengthAdjust="spacingAndGlyphs">xxxx xxx xxxxx xx xxxx xxxxx</text><text class="t" x="242" y="405.3" textLength="90" lengthAdjust="spacingAndGlyphs">xxxx xxx xxxxx xx xxxx xxxxx</text>
<rect class="bx" x="342" y="390.5" width="78" height="7.5"/><text class="t" x="344" y="393" textLength="72" lengthAdjust="spacingAndGlyphs">xxxx xxx xxxxx xx xxxx</text><text class="t" x="344" y="395.5" textLength="60" lengthAdjust="spacingAndGlyphs">xxxx xxx xxxxx xx</text>
<rect class="bx" x="342" y="401" width="78" height="7.5"/><text class="t" x="344" y="403.5" textLength="72" lengthAdjust="spacingAndGlyphs">xxxx xxx xxxxx xx xxxx</text><text class="t" x="344" y="406" textLength="50" lengthAdjust="spacingAndGlyphs">xxxx xxx xxxxx</text></g>
<g id="n4-5"><text class="m" x="160" y="433.3" textLength="15" lengthAdjust="spacingAndGlyphs">xxxx</text>
<text class="m" x="182" y="418.3" textLength="26" lengthAdjust="spacingAndGlyphs">xxxx xxx</text><text class="t" x="217" y="416.8" textLength="75" lengthAdjust="spacingAndGlyphs">xxxx xxx xxxxx xx xxxx</text><text class="t" x="217" y="419.5" textLength="70" lengthAdjust="spacingAndGlyphs">xxxx xxx xxxxx xx xxxx</text>
<rect class="bx" x="293" y="411" width="97" height="27"/><text class="t" x="295" y="413.5" textLength="90" lengthAdjust="spacingAndGlyphs">xxxx xxx xxxxx xx xxxx xxxxx</text><text class="t" x="295" y="416" textLength="70" lengthAdjust="spacingAndGlyphs">xxxx xxx xxxxx xx xxxx</text><text class="t" x="298" y="418.5" textLength="80" lengthAdjust="spacingAndGlyphs">xxxx xxx xxxxx xx xxxx xxxxx</text><text class="t" x="298" y="421" textLength="60" lengthAdjust="spacingAndGlyphs">xxxx xxx xxxxx xx</text><text class="t" x="295" y="423.5" textLength="88" lengthAdjust="spacingAndGlyphs">xxxx xxx xxxxx xx xxxx xxxxx</text><text class="t" x="295" y="426" textLength="76" lengthAdjust="spacingAndGlyphs">xxxx xxx xxxxx xx xxxx</text><text class="t" x="298" y="428.5" textLength="66" lengthAdjust="spacingAndGlyphs">xxxx xxx xxxxx xx</text><text class="t" x="295" y="431" textLength="84" lengthAdjust="spacingAndGlyphs">xxxx xxx xxxxx xx xxxx xxxxx</text><text class="t" x="295" y="433.5" textLength="50" lengthAdjust="spacingAndGlyphs">xxxx xxx xxxxx</text><text class="t" x="295" y="436" textLength="30" lengthAdjust="spacingAndGlyphs">xxxx xxx</text>
<text class="m" x="182" y="444.3" textLength="46" lengthAdjust="spacingAndGlyphs">xxxx xxx xxxxx xx</text><text class="t" x="238" y="442.8" textLength="70" lengthAdjust="spacingAndGlyphs">xxxx xxx xxxxx xx xxxx</text><text class="t" x="238" y="445.5" textLength="62" lengthAdjust="spacingAndGlyphs">xxxx xxx xxxxx xx</text>
<rect class="bx" x="318" y="439.5" width="122" height="9.5"/><text class="t" x="320" y="442" textLength="115" lengthAdjust="spacingAndGlyphs">xxxx xxx xxxxx xx xxxx xxxxx xxx</text><text class="t" x="320" y="444.5" textLength="100" lengthAdjust="spacingAndGlyphs">xxxx xxx xxxxx xx xxxx xxxxx</text><text class="t" x="320" y="447" textLength="70" lengthAdjust="spacingAndGlyphs">xxxx xxx xxxxx xx</text></g>
</g>
<g id="n5">
<text class="h" x="101" y="538.3" textLength="8" lengthAdjust="spacingAndGlyphs">xxx</text>
<text class="m" x="120" y="538.3" textLength="38" lengthAdjust="spacingAndGlyphs">xxxx xxx xxxxx xx</text>
<g id="n5-1"><text class="h" x="168" y="453.3" textLength="8" lengthAdjust="spacingAndGlyphs">xxx</text><text class="m" x="180" y="453.3" textLength="12" lengthAdjust="spacingAndGlyphs">xxxx</text><text class="t" x="201" y="453.3" textLength="121" lengthAdjust="spacingAndGlyphs">xxxx xxx xxxxx xx xxxx xxxxx xxx xxxx</text><rect class="bx" x="325" y="447.5" width="95" height="7"/><text class="t" x="327" y="450" textLength="88" lengthAdjust="spacingAndGlyphs">xxxx xxx xxxxx xx xxxx</text><text class="t" x="327" y="452.6" textLength="70" lengthAdjust="spacingAndGlyphs">xxxx xxx xxxxx xx</text></g>
<g id="n5-2"><text class="h" x="168" y="509.3" textLength="8" lengthAdjust="spacingAndGlyphs">xxx</text><text class="m" x="180" y="509.3" textLength="38" lengthAdjust="spacingAndGlyphs">xxxx xxx xxxxx xx</text>
<text class="t" x="228" y="458.3" textLength="97" lengthAdjust="spacingAndGlyphs">xxxx xxx xxxxx xx xxxx xxxxx</text><rect class="bx" x="328" y="456" width="72" height="4"/><text class="t" x="330" y="458.8" textLength="66" lengthAdjust="spacingAndGlyphs">xxxx xxx xxxxx xx</text>
<text class="t" x="228" y="462" textLength="74" lengthAdjust="spacingAndGlyphs">xxxx xxx xxxxx xx xxxx</text><text class="t" x="228" y="464.3" textLength="60" lengthAdjust="spacingAndGlyphs">xxxx xxx xxxxx xx</text><rect class="bx" x="308" y="460.5" width="87" height="5.2"/><text class="t" x="310" y="462.8" textLength="80" lengthAdjust="spacingAndGlyphs">xxxx xxx xxxxx xx xxxx</text><text class="t" x="310" y="465" textLength="50" lengthAdjust="spacingAndGlyphs">xxxx xxx xxxxx</text>
<text class="t" x="228" y="468.3" textLength="74" lengthAdjust="spacingAndGlyphs">xxxx xxx xxxxx xx xxxx</text><rect class="bx" x="308" y="466.3" width="92" height="4"/><text class="t" x="310" y="469.1" textLength="85" lengthAdjust="spacingAndGlyphs">xxxx xxx xxxxx xx xxxx</text>
<text class="t" x="228" y="472.2" textLength="64" lengthAdjust="spacingAndGlyphs">xxxx xxx xxxxx xx</text><text class="t" x="228" y="474.5" textLength="55" lengthAdjust="spacingAndGlyphs">xxxx xxx xxxxx</text><rect class="bx" x="305" y="470.8" width="90" height="4.8"/><text class="t" x="307" y="474" textLength="84" lengthAdjust="spacingAndGlyphs">xxxx xxx xxxxx xx xxxx</text>
<text class="t" x="228" y="498.3" textLength="67" lengthAdjust="spacingAndGlyphs">xxxx xxx xxxxx xx</text><text class="t" x="228" y="500.8" textLength="70" lengthAdjust="spacingAndGlyphs">xxxx xxx xxxxx xx xxxx</text><text class="t" x="228" y="503.3" textLength="55" lengthAdjust="spacingAndGlyphs">xxxx xxx xxxxx</text>
<rect class="bx" x="300" y="476.5" width="180" height="51"/>
<text class="m" x="310" y="483.3" textLength="18" lengthAdjust="spacingAndGlyphs">xxxx</text><text class="t" x="337" y="479.5" textLength="140" lengthAdjust="spacingAndGlyphs">xxxx xxx xxxxx xx xxxx xxxxx xxxx xxx</text><text class="t" x="337" y="482" textLength="120" lengthAdjust="spacingAndGlyphs">xxxx xxx xxxxx xx xxxx xxxxx xxxx</text><text class="t" x="337" y="484.5" textLength="100" lengthAdjust="spacingAndGlyphs">xxxx xxx xxxxx xx xxxx xxxxx</text>
<text class="m" x="310" y="493.3" textLength="18" lengthAdjust="spacingAndGlyphs">xxxx</text><text class="t" x="337" y="489.5" textLength="135" lengthAdjust="spacingAndGlyphs">xxxx xxx xxxxx xx xxxx xxxxx xxxx xxx</text><text class="t" x="337" y="492" textLength="140" lengthAdjust="spacingAndGlyphs">xxxx xxx xxxxx xx xxxx xxxxx xxxx xxx</text><text class="t" x="337" y="494.5" textLength="90" lengthAdjust="spacingAndGlyphs">xxxx xxx xxxxx xx xxxx</text>
<text class="m" x="310" y="504.3" textLength="18" lengthAdjust="spacingAndGlyphs">xxxx</text><text class="t" x="337" y="500.5" textLength="130" lengthAdjust="spacingAndGlyphs">xxxx xxx xxxxx xx xxxx xxxxx xxxx xxx</text><text class="t" x="337" y="503" textLength="138" lengthAdjust="spacingAndGlyphs">xxxx xxx xxxxx xx xxxx xxxxx xxxx xxx</text><text class="t" x="337" y="505.5" textLength="80" lengthAdjust="spacingAndGlyphs">xxxx xxx xxxxx xx</text>
<text class="m" x="310" y="513.3" textLength="18" lengthAdjust="spacingAndGlyphs">xxxx</text><text class="t" x="337" y="511" textLength="120" lengthAdjust="spacingAndGlyphs">xxxx xxx xxxxx xx xxxx xxxxx xxxx</text><text class="t" x="337" y="513.5" textLength="125" lengthAdjust="spacingAndGlyphs">xxxx xxx xxxxx xx xxxx xxxxx xxxx</text>
<text class="m" x="310" y="522.3" textLength="18" lengthAdjust="spacingAndGlyphs">xxxx</text><text class="t" x="337" y="519.5" textLength="130" lengthAdjust="spacingAndGlyphs">xxxx xxx xxxxx xx xxxx xxxxx xxxx xxx</text><text class="t" x="337" y="522" textLength="110" lengthAdjust="spacingAndGlyphs">xxxx xxx xxxxx xx xxxx xxxxx</text><text class="t" x="337" y="524.5" textLength="70" lengthAdjust="spacingAndGlyphs">xxxx xxx xxxxx xx</text>
<text class="t" x="228" y="538.3" textLength="70" lengthAdjust="spacingAndGlyphs">xxxx xxx xxxxx xx xxxx</text><text class="t" x="228" y="540.8" textLength="72" lengthAdjust="spacingAndGlyphs">xxxx xxx xxxxx xx xxxx</text><text class="t" x="228" y="543.3" textLength="50" lengthAdjust="spacingAndGlyphs">xxxx xxx xxxxx</text>
<rect class="bx" x="300" y="528.5" width="180" height="22"/>
<text class="m" x="309" y="532.3" textLength="13" lengthAdjust="spacingAndGlyphs">xxxx</text><text class="t" x="326" y="531" textLength="145" lengthAdjust="spacingAndGlyphs">xxxx xxx xxxxx xx xxxx xxxxx xxxx xxx</text><text class="t" x="326" y="533.5" textLength="110" lengthAdjust="spacingAndGlyphs">xxxx xxx xxxxx xx xxxx xxxxx</text>
<text class="m" x="309" y="541.3" textLength="13" lengthAdjust="spacingAndGlyphs">xxxx</text><text class="t" x="326" y="538.5" textLength="140" lengthAdjust="spacingAndGlyphs">xxxx xxx xxxxx xx xxxx xxxxx xxxx xxx</text><text class="t" x="326" y="541" textLength="150" lengthAdjust="spacingAndGlyphs">xxxx xxx xxxxx xx xxxx xxxxx xxxx xxx</text><text class="t" x="326" y="543.5" textLength="90" lengthAdjust="spacingAndGlyphs">xxxx xxx xxxxx xx xxxx</text>
<text class="m" x="309" y="549.3" textLength="13" lengthAdjust="spacingAndGlyphs">xxxx</text><text class="t" x="326" y="548.3" textLength="120" lengthAdjust="spacingAndGlyphs">xxxx xxx xxxxx xx xxxx xxxxx xxxx</text>
<text class="t" x="228" y="559.3" textLength="67" lengthAdjust="spacingAndGlyphs">xxxx xxx xxxxx xx</text><text class="m" x="303" y="556.3" textLength="13" lengthAdjust="spacingAndGlyphs">xxxx</text><text class="m" x="303" y="563.3" textLength="13" lengthAdjust="spacingAndGlyphs">xxxx</text>
<rect class="bx" x="320" y="552" width="120" height="14"/><text class="t" x="322" y="554.5" textLength="112" lengthAdjust="spacingAndGlyphs">xxxx xxx xxxxx xx xxxx xxxxx xxx</text><text class="t" x="322" y="557" textLength="100" lengthAdjust="spacingAndGlyphs">xxxx xxx xxxxx xx xxxx xxxxx</text><text class="t" x="322" y="559.5" textLength="90" lengthAdjust="spacingAndGlyphs">xxxx xxx xxxxx xx xxxx</text><text class="t" x="322" y="562" textLength="110" lengthAdjust="spacingAndGlyphs">xxxx xxx xxxxx xx xxxx xxxxx xxx</text><text class="t" x="322" y="564.5" textLength="70" lengthAdjust="spacingAndGlyphs">xxxx xxx xxxxx xx</text></g>
<g id="n5-3"><text class="h" x="168" y="584.3" textLength="8" lengthAdjust="spacingAndGlyphs">xxx</text><text class="m" x="183" y="584.3" textLength="42" lengthAdjust="spacingAndGlyphs">xxxx xxx xxxxx xx</text>
<text class="t" x="233" y="571.3" textLength="62" lengthAdjust="spacingAndGlyphs">xxxx xxx xxxxx xx</text><text class="t" x="233" y="573.8" textLength="50" lengthAdjust="spacingAndGlyphs">xxxx xxx xxxxx</text>
<text class="t" x="233" y="579.8" textLength="62" lengthAdjust="spacingAndGlyphs">xxxx xxx xxxxx xx</text><text class="t" x="233" y="582.3" textLength="48" lengthAdjust="spacingAndGlyphs">xxxx xxx xxxxx</text>
<text class="t" x="233" y="588.3" textLength="62" lengthAdjust="spacingAndGlyphs">xxxx xxx xxxxx xx</text><text class="t" x="233" y="590.8" textLength="55" lengthAdjust="spacingAndGlyphs">xxxx xxx xxxxx</text>
<text class="t" x="233" y="596.8" textLength="62" lengthAdjust="spacingAndGlyphs">xxxx xxx xxxxx xx</text><text class="t" x="233" y="599.3" textLength="45" lengthAdjust="spacingAndGlyphs">xxxx xxx xxxxx</text>
<rect class="bx" x="305" y="568.8" width="90" height="7"/><text class="t" x="307" y="571.3" textLength="84" lengthAdjust="spacingAndGlyphs">xxxx xxx xxxxx xx xxxx</text><text class="t" x="307" y="573.8" textLength="60" lengthAdjust="spacingAndGlyphs">xxxx xxx xxxxx xx</text>
<rect class="bx" x="305" y="577.2" width="90" height="7"/><text class="t" x="307" y="579.7" textLength="84" lengthAdjust="spacingAndGlyphs">xxxx xxx xxxxx xx xxxx</text><text class="t" x="307" y="582.2" textLength="50" lengthAdjust="spacingAndGlyphs">xxxx xxx xxxxx</text>
<rect class="bx" x="305" y="585.6" width="90" height="7"/><text class="t" x="307" y="588.1" textLength="84" lengthAdjust="spacingAndGlyphs">xxxx xxx xxxxx xx xxxx</text><text class="t" x="307" y="590.6" textLength="66" lengthAdjust="spacingAndGlyphs">xxxx xxx xxxxx xx</text>
<rect class="bx" x="305" y="594" width="90" height="6.5"/><text class="t" x="307" y="596.5" textLength="84" lengthAdjust="spacingAndGlyphs">xxxx xxx xxxxx xx xxxx</text><text class="t" x="307" y="599" textLength="40" lengthAdjust="spacingAndGlyphs">xxxx xxx</text></g>
<g id="n5-4"><text class="m" x="168" y="628.3" textLength="12" lengthAdjust="spacingAndGlyphs">xxxx</text>
<text class="m" x="190" y="609.3" textLength="42" lengthAdjust="spacingAndGlyphs">xxxx xxx xxxxx xx</text><text class="t" x="238" y="605.8" textLength="64" lengthAdjust="spacingAndGlyphs">xxxx xxx xxxxx xx</text><text class="t" x="238" y="608.3" textLength="60" lengthAdjust="spacingAndGlyphs">xxxx xxx xxxxx xx</text><text class="t" x="238" y="610.8" textLength="50" lengthAdjust="spacingAndGlyphs">xxxx xxx xxxxx</text>
<rect class="pl" x="314" y="606.7" width="13" height="2.6" rx="1.3"/>
<rect class="bx" x="340" y="601" width="170" height="11"/><text class="t" x="342" y="603.5" textLength="160" lengthAdjust="spacingAndGlyphs">xxxx xxx xxxxx xx xxxx xxxxx xxxx xxx xxxxx</text><text class="t" x="342" y="606" textLength="150" lengthAdjust="spacingAndGlyphs">xxxx xxx xxxxx xx xxxx xxxxx xxxx xxx xxxxx</text><text class="t" x="342" y="608.5" textLength="162" lengthAdjust="spacingAndGlyphs">xxxx xxx xxxxx xx xxxx xxxxx xxxx xxx xxxxx</text><text class="t" x="342" y="611" textLength="90" lengthAdjust="spacingAndGlyphs">xxxx xxx xxxxx xx xxxx</text>
<text class="m" x="190" y="621.3" textLength="48" lengthAdjust="spacingAndGlyphs">xxxx xxx xxxxx xx</text><text class="t" x="247" y="619.8" textLength="70" lengthAdjust="spacingAndGlyphs">xxxx xxx xxxxx xx xxxx</text><text class="t" x="247" y="622.5" textLength="62" lengthAdjust="spacingAndGlyphs">xxxx xxx xxxxx xx</text>
<rect class="pl" x="327" y="618.7" width="17" height="2.6" rx="1.3"/>
<rect class="bx" x="352" y="613" width="158" height="12.5"/><text class="t" x="354" y="615.5" textLength="150" lengthAdjust="spacingAndGlyphs">xxxx xxx xxxxx xx xxxx xxxxx xxxx xxx xxxxx</text><text class="t" x="354" y="618" textLength="140" lengthAdjust="spacingAndGlyphs">xxxx xxx xxxxx xx xxxx xxxxx xxxx xxx</text><text class="t" x="354" y="620.5" textLength="152" lengthAdjust="spacingAndGlyphs">xxxx xxx xxxxx xx xxxx xxxxx xxxx xxx xxxxx</text><text class="t" x="354" y="623" textLength="100" lengthAdjust="spacingAndGlyphs">xxxx xxx xxxxx xx xxxx xxxxx</text>
<text class="m" x="190" y="636.3" textLength="38" lengthAdjust="spacingAndGlyphs">xxxx xxx xxxxx</text><text class="t" x="235" y="634.8" textLength="73" lengthAdjust="spacingAndGlyphs">xxxx xxx xxxxx xx xxxx</text><text class="t" x="235" y="637.5" textLength="66" lengthAdjust="spacingAndGlyphs">xxxx xxx xxxxx xx</text>
<rect class="pl" x="318" y="633.7" width="17" height="2.6" rx="1.3"/>
<rect class="bx" x="345" y="626.5" width="110" height="14"/><text class="t" x="347" y="629" textLength="104" lengthAdjust="spacingAndGlyphs">xxxx xxx xxxxx xx xxxx xxxxx</text><text class="t" x="347" y="631.5" textLength="95" lengthAdjust="spacingAndGlyphs">xxxx xxx xxxxx xx xxxx xxxxx</text><text class="t" x="347" y="634" textLength="100" lengthAdjust="spacingAndGlyphs">xxxx xxx xxxxx xx xxxx xxxxx</text><text class="t" x="347" y="636.5" textLength="80" lengthAdjust="spacingAndGlyphs">xxxx xxx xxxxx xx xxxx</text><text class="t" x="347" y="639" textLength="50" lengthAdjust="spacingAndGlyphs">xxxx xxx xxxxx</text></g>
</g>
<g id="n6">
<text class="h" x="101" y="688.3" textLength="8" lengthAdjust="spacingAndGlyphs">xxx</text>
<text class="m" x="120" y="688.3" textLength="28" lengthAdjust="spacingAndGlyphs">xxxx xxx</text>
<g id="n6-1"><text class="h" x="155" y="653.3" textLength="6" lengthAdjust="spacingAndGlyphs">xxx</text><text class="m" x="163" y="653.3" textLength="65" lengthAdjust="spacingAndGlyphs">xxxx xxx xxxxx xx xxxx</text><text class="t" x="232" y="651.8" textLength="66" lengthAdjust="spacingAndGlyphs">xxxx xxx xxxxx xx</text><text class="t" x="232" y="654.5" textLength="60" lengthAdjust="spacingAndGlyphs">xxxx xxx xxxxx xx</text>
<rect class="bx" x="310" y="646.5" width="60" height="10"/><text class="t" x="312" y="649" textLength="55" lengthAdjust="spacingAndGlyphs">xxxx xxx xxxxx</text><text class="t" x="312" y="651.5" textLength="50" lengthAdjust="spacingAndGlyphs">xxxx xxx xxxxx</text><text class="t" x="312" y="654" textLength="35" lengthAdjust="spacingAndGlyphs">xxxx xxx</text></g>
<g id="n6-2"><text class="h" x="155" y="663.3" textLength="6" lengthAdjust="spacingAndGlyphs">xxx</text><text class="m" x="163" y="663.3" textLength="72" lengthAdjust="spacingAndGlyphs">xxxx xxx xxxxx xx xxxx</text><text class="t" x="245" y="660.3" textLength="17" lengthAdjust="spacingAndGlyphs">xxxx</text><text class="t" x="245" y="666.8" textLength="50" lengthAdjust="spacingAndGlyphs">xxxx xxx xxxxx</text><text class="t" x="245" y="669.3" textLength="40" lengthAdjust="spacingAndGlyphs">xxxx xxx</text>
<rect class="bx" x="273" y="657.2" width="62" height="5.2"/><text class="t" x="275" y="659.5" textLength="56" lengthAdjust="spacingAndGlyphs">xxxx xxx xxxxx</text><text class="t" x="275" y="661.8" textLength="40" lengthAdjust="spacingAndGlyphs">xxxx xxx</text>
<rect class="bx" x="312" y="663.3" width="68" height="8"/><text class="t" x="314" y="665.8" textLength="62" lengthAdjust="spacingAndGlyphs">xxxx xxx xxxxx xx</text><text class="t" x="314" y="668.3" textLength="55" lengthAdjust="spacingAndGlyphs">xxxx xxx xxxxx</text><text class="t" x="314" y="670.7" textLength="30" lengthAdjust="spacingAndGlyphs">xxxx</text></g>
<g id="n6-3"><text class="h" x="155" y="679.3" textLength="6" lengthAdjust="spacingAndGlyphs">xxx</text><text class="m" x="163" y="679.3" textLength="65" lengthAdjust="spacingAndGlyphs">xxxx xxx xxxxx xx xxxx</text><text class="t" x="237" y="672.8" textLength="68" lengthAdjust="spacingAndGlyphs">xxxx xxx xxxxx xx</text><text class="t" x="237" y="675.3" textLength="60" lengthAdjust="spacingAndGlyphs">xxxx xxx xxxxx xx</text><text class="t" x="237" y="686.3" textLength="11" lengthAdjust="spacingAndGlyphs">xxxx</text>
<rect class="bx" x="315" y="672" width="115" height="7.5"/><text class="t" x="317" y="674.5" textLength="108" lengthAdjust="spacingAndGlyphs">xxxx xxx xxxxx xx xxxx xxxxx</text><text class="t" x="317" y="677" textLength="80" lengthAdjust="spacingAndGlyphs">xxxx xxx xxxxx xx xxxx</text>
<rect class="bx" x="315" y="681" width="115" height="8.5"/><text class="t" x="317" y="683.5" textLength="108" lengthAdjust="spacingAndGlyphs">xxxx xxx xxxxx xx xxxx xxxxx</text><text class="t" x="317" y="686" textLength="100" lengthAdjust="spacingAndGlyphs">xxxx xxx xxxxx xx xxxx xxxxx</text><text class="t" x="317" y="688.5" textLength="60" lengthAdjust="spacingAndGlyphs">xxxx xxx xxxxx</text></g>
<g id="n6-4"><text class="m" x="155" y="723.3" textLength="16" lengthAdjust="spacingAndGlyphs">xxxx</text>
<text class="m" x="178" y="713.3" textLength="57" lengthAdjust="spacingAndGlyphs">xxxx xxx xxxxx xx</text><text class="t" x="243" y="711.8" textLength="75" lengthAdjust="spacingAndGlyphs">xxxx xxx xxxxx xx xxxx</text><text class="t" x="243" y="714.5" textLength="66" lengthAdjust="spacingAndGlyphs">xxxx xxx xxxxx xx</text>
<rect class="pl" x="328" y="710.7" width="17" height="2.6" rx="1.3"/>
<rect class="bx" x="355" y="692" width="155" height="18"/><text class="t" x="357" y="694.5" textLength="148" lengthAdjust="spacingAndGlyphs">xxxx xxx xxxxx xx xxxx xxxxx xxxx xxx xxxxx</text><text class="t" x="357" y="697" textLength="130" lengthAdjust="spacingAndGlyphs">xxxx xxx xxxxx xx xxxx xxxxx xxxx xxx</text><text class="t" x="360" y="699.5" textLength="120" lengthAdjust="spacingAndGlyphs">xxxx xxx xxxxx xx xxxx xxxxx xxxx</text><text class="t" x="360" y="702" textLength="140" lengthAdjust="spacingAndGlyphs">xxxx xxx xxxxx xx xxxx xxxxx xxxx xxx</text><text class="t" x="357" y="704.5" textLength="110" lengthAdjust="spacingAndGlyphs">xxxx xxx xxxxx xx xxxx xxxxx</text><text class="t" x="357" y="707" textLength="60" lengthAdjust="spacingAndGlyphs">xxxx xxx xxxxx</text>
<text class="m" x="178" y="733.3" textLength="32" lengthAdjust="spacingAndGlyphs">xxxx xxx</text><text class="t" x="218" y="730.3" textLength="70" lengthAdjust="spacingAndGlyphs">xxxx xxx xxxxx xx xxxx</text><text class="t" x="218" y="733" textLength="66" lengthAdjust="spacingAndGlyphs">xxxx xxx xxxxx xx</text><text class="t" x="218" y="735.7" textLength="50" lengthAdjust="spacingAndGlyphs">xxxx xxx xxxxx</text>
<rect class="pl" x="303" y="730.7" width="15" height="2.6" rx="1.3"/>
<rect class="bx" x="330" y="722" width="70" height="20"/><text class="t" x="332" y="724.5" textLength="64" lengthAdjust="spacingAndGlyphs">xxxx xxx xxxxx xx</text><text class="t" x="332" y="727" textLength="60" lengthAdjust="spacingAndGlyphs">xxxx xxx xxxxx</text><text class="t" x="335" y="729.5" textLength="55" lengthAdjust="spacingAndGlyphs">xxxx xxx xxxxx</text><text class="t" x="335" y="732" textLength="60" lengthAdjust="spacingAndGlyphs">xxxx xxx xxxxx</text><text class="t" x="332" y="734.5" textLength="62" lengthAdjust="spacingAndGlyphs">xxxx xxx xxxxx</text><text class="t" x="332" y="737" textLength="50" lengthAdjust="spacingAndGlyphs">xxxx xxx xxxxx</text><text class="t" x="332" y="739.5" textLength="30" lengthAdjust="spacingAndGlyphs">xxxx</text></g>
</g>
<g id="n7">
<text class="h" x="101" y="795.3" textLength="8" lengthAdjust="spacingAndGlyphs">xxx</text>
<text class="m" x="120" y="795.3" textLength="32" lengthAdjust="spacingAndGlyphs">xxxx xxx xxxxx</text>
<g id="n7-1"><text class="h" x="161" y="752.3" textLength="8" lengthAdjust="spacingAndGlyphs">xxx</text><text class="m" x="173" y="752.3" textLength="65" lengthAdjust="spacingAndGlyphs">xxxx xxx xxxxx xx xxxx</text><text class="t" x="250" y="750.8" textLength="72" lengthAdjust="spacingAndGlyphs">xxxx xxx xxxxx xx xxxx</text><text class="t" x="250" y="753.5" textLength="60" lengthAdjust="spacingAndGlyphs">xxxx xxx xxxxx xx</text>
<rect class="bx" x="330" y="744" width="100" height="8.5"/><text class="t" x="332" y="746.5" textLength="94" lengthAdjust="spacingAndGlyphs">xxxx xxx xxxxx xx xxxx xxxxx</text><text class="t" x="332" y="749" textLength="85" lengthAdjust="spacingAndGlyphs">xxxx xxx xxxxx xx xxxx xxxxx</text><text class="t" x="332" y="751.5" textLength="50" lengthAdjust="spacingAndGlyphs">xxxx xxx xxxxx</text></g>
<g id="n7-2"><text class="h" x="161" y="762.3" textLength="8" lengthAdjust="spacingAndGlyphs">xxx</text><text class="m" x="173" y="762.3" textLength="29" lengthAdjust="spacingAndGlyphs">xxxx xxx</text><text class="t" x="212" y="760.8" textLength="60" lengthAdjust="spacingAndGlyphs">xxxx xxx xxxxx xx</text><text class="t" x="212" y="763.5" textLength="50" lengthAdjust="spacingAndGlyphs">xxxx xxx xxxxx</text>
<text class="t" x="287" y="757.5" textLength="85" lengthAdjust="spacingAndGlyphs">xxxx xxx xxxxx xx xxxx xxxxx</text><text class="t" x="287" y="760.5" textLength="100" lengthAdjust="spacingAndGlyphs">xxxx xxx xxxxx xx xxxx xxxxx</text><text class="t" x="287" y="763.5" textLength="90" lengthAdjust="spacingAndGlyphs">xxxx xxx xxxxx xx xxxx xxxxx</text><text class="t" x="287" y="766.5" textLength="70" lengthAdjust="spacingAndGlyphs">xxxx xxx xxxxx xx</text></g>
<g id="n7-3"><text class="h" x="161" y="772.3" textLength="8" lengthAdjust="spacingAndGlyphs">xxx</text><text class="m" x="173" y="772.3" textLength="45" lengthAdjust="spacingAndGlyphs">xxxx xxx xxxxx xx</text><text class="t" x="228" y="771.3" textLength="67" lengthAdjust="spacingAndGlyphs">xxxx xxx xxxxx xx</text><text class="t" x="228" y="775.8" textLength="67" lengthAdjust="spacingAndGlyphs">xxxx xxx xxxxx xx</text>
<rect class="bx" x="300" y="768.7" width="60" height="3.6"/><text class="t" x="302" y="771.3" textLength="55" lengthAdjust="spacingAndGlyphs">xxxx xxx xxxxx</text>
<rect class="bx" x="300" y="773.2" width="60" height="3.6"/><text class="t" x="302" y="775.8" textLength="50" lengthAdjust="spacingAndGlyphs">xxxx xxx xxxxx</text></g>
<g id="n7-4"><text class="h" x="161" y="783.8" textLength="8" lengthAdjust="spacingAndGlyphs">xxx</text><text class="m" x="173" y="783.8" textLength="69" lengthAdjust="spacingAndGlyphs">xxxx xxx xxxxx xx xxxx</text><text class="t" x="252" y="780.6" textLength="63" lengthAdjust="spacingAndGlyphs">xxxx xxx xxxxx xx</text><text class="t" x="252" y="784.9" textLength="63" lengthAdjust="spacingAndGlyphs">xxxx xxx xxxxx xx</text><text class="t" x="252" y="789.2" textLength="63" lengthAdjust="spacingAndGlyphs">xxxx xxx xxxxx xx</text>
<rect class="bx" x="325" y="778" width="95" height="3.6"/><text class="t" x="327" y="780.6" textLength="88" lengthAdjust="spacingAndGlyphs">xxxx xxx xxxxx xx xxxx</text>
<rect class="bx" x="325" y="782.3" width="95" height="3.6"/><text class="t" x="327" y="784.9" textLength="80" lengthAdjust="spacingAndGlyphs">xxxx xxx xxxxx xx xxxx</text>
<rect class="bx" x="325" y="786.6" width="95" height="3.6"/><text class="t" x="327" y="789.2" textLength="86" lengthAdjust="spacingAndGlyphs">xxxx xxx xxxxx xx xxxx</text>
<rect class="pl" x="444" y="775.7" width="13" height="2.6" rx="1.3"/>
<rect class="bx" x="470" y="752" width="62" height="60"/><text class="t" x="472" y="754.5" textLength="56" lengthAdjust="spacingAndGlyphs">xxxx xxx xxxxx xx</text><text class="t" x="472" y="757" textLength="50" lengthAdjust="spacingAndGlyphs">xxxx xxx xxxxx</text><text class="t" x="475" y="759.5" textLength="52" lengthAdjust="spacingAndGlyphs">xxxx xxx xxxxx</text><text class="t" x="475" y="762" textLength="45" lengthAdjust="spacingAndGlyphs">xxxx xxx xx</text><text class="t" x="472" y="764.5" textLength="56" lengthAdjust="spacingAndGlyphs">xxxx xxx xxxxx xx</text><text class="t" x="472" y="767" textLength="40" lengthAdjust="spacingAndGlyphs">xxxx xxx</text><text class="t" x="475" y="769.5" textLength="53" lengthAdjust="spacingAndGlyphs">xxxx xxx xxxxx</text><text class="t" x="475" y="772" textLength="48" lengthAdjust="spacingAndGlyphs">xxxx xxx xx</text><text class="t" x="472" y="774.5" textLength="56" lengthAdjust="spacingAndGlyphs">xxxx xxx xxxxx xx</text><text class="t" x="472" y="777" textLength="36" lengthAdjust="spacingAndGlyphs">xxxx xxx</text><text class="t" x="475" y="779.5" textLength="50" lengthAdjust="spacingAndGlyphs">xxxx xxx xxxxx</text><text class="t" x="475" y="782" textLength="54" lengthAdjust="spacingAndGlyphs">xxxx xxx xxxxx</text><text class="t" x="472" y="784.5" textLength="56" lengthAdjust="spacingAndGlyphs">xxxx xxx xxxxx xx</text><text class="t" x="472" y="787" textLength="44" lengthAdjust="spacingAndGlyphs">xxxx xxx xx</text><text class="t" x="475" y="789.5" textLength="50" lengthAdjust="spacingAndGlyphs">xxxx xxx xxxxx</text><text class="t" x="475" y="792" textLength="53" lengthAdjust="spacingAndGlyphs">xxxx xxx xxxxx</text><text class="t" x="472" y="794.5" textLength="56" lengthAdjust="spacingAndGlyphs">xxxx xxx xxxxx xx</text><text class="t" x="472" y="797" textLength="40" lengthAdjust="spacingAndGlyphs">xxxx xxx</text><text class="t" x="475" y="799.5" textLength="50" lengthAdjust="spacingAndGlyphs">xxxx xxx xxxxx</text><text class="t" x="475" y="802" textLength="46" lengthAdjust="spacingAndGlyphs">xxxx xxx xx</text><text class="t" x="472" y="804.5" textLength="56" lengthAdjust="spacingAndGlyphs">xxxx xxx xxxxx xx</text><text class="t" x="472" y="807" textLength="30" lengthAdjust="spacingAndGlyphs">xxxx</text><text class="t" x="472" y="809.5" textLength="20" lengthAdjust="spacingAndGlyphs">xx</text></g>
<g id="n7-5"><text class="m" x="160" y="839.3" textLength="15" lengthAdjust="spacingAndGlyphs">xxxx</text>
<text class="m" x="181" y="806.3" textLength="55" lengthAdjust="spacingAndGlyphs">xxxx xxx xxxxx xx</text><text class="t" x="247" y="804.8" textLength="75" lengthAdjust="spacingAndGlyphs">xxxx xxx xxxxx xx xxxx</text><text class="t" x="247" y="807.5" textLength="66" lengthAdjust="spacingAndGlyphs">xxxx xxx xxxxx xx</text>
<rect class="pl" x="331" y="803.7" width="14" height="2.6" rx="1.3"/>
<rect class="bx" x="360" y="795" width="108" height="33"/><text class="t" x="362" y="797.5" textLength="100" lengthAdjust="spacingAndGlyphs">xxxx xxx xxxxx xx xxxx xxxxx</text><text class="t" x="362" y="800" textLength="92" lengthAdjust="spacingAndGlyphs">xxxx xxx xxxxx xx xxxx xxxxx</text><text class="t" x="365" y="802.5" textLength="80" lengthAdjust="spacingAndGlyphs">xxxx xxx xxxxx xx xxxx</text><text class="t" x="365" y="805" textLength="95" lengthAdjust="spacingAndGlyphs">xxxx xxx xxxxx xx xxxx xxxxx</text><text class="t" x="362" y="807.5" textLength="70" lengthAdjust="spacingAndGlyphs">xxxx xxx xxxxx xx</text><text class="t" x="362" y="810" textLength="100" lengthAdjust="spacingAndGlyphs">xxxx xxx xxxxx xx xxxx xxxxx</text><text class="t" x="365" y="812.5" textLength="88" lengthAdjust="spacingAndGlyphs">xxxx xxx xxxxx xx xxxx</text><text class="t" x="365" y="815" textLength="60" lengthAdjust="spacingAndGlyphs">xxxx xxx xxxxx</text><text class="t" x="362" y="817.5" textLength="96" lengthAdjust="spacingAndGlyphs">xxxx xxx xxxxx xx xxxx xxxxx</text><text class="t" x="362" y="820" textLength="80" lengthAdjust="spacingAndGlyphs">xxxx xxx xxxxx xx xxxx</text><text class="t" x="362" y="822.5" textLength="90" lengthAdjust="spacingAndGlyphs">xxxx xxx xxxxx xx xxxx xxxxx</text><text class="t" x="362" y="825" textLength="40" lengthAdjust="spacingAndGlyphs">xxxx xxx</text>
<text class="m" x="181" y="839.3" textLength="60" lengthAdjust="spacingAndGlyphs">xxxx xxx xxxxx xx</text><text class="t" x="250" y="837.8" textLength="75" lengthAdjust="spacingAndGlyphs">xxxx xxx xxxxx xx xxxx</text><text class="t" x="250" y="840.5" textLength="60" lengthAdjust="spacingAndGlyphs">xxxx xxx xxxxx xx</text>
<rect class="pl" x="335" y="836.7" width="14" height="2.6" rx="1.3"/>
<rect class="bx" x="358" y="832" width="97" height="18"/><text class="t" x="360" y="834.5" textLength="90" lengthAdjust="spacingAndGlyphs">xxxx xxx xxxxx xx xxxx xxxxx</text><text class="t" x="360" y="837" textLength="80" lengthAdjust="spacingAndGlyphs">xxxx xxx xxxxx xx xxxx</text><text class="t" x="363" y="839.5" textLength="85" lengthAdjust="spacingAndGlyphs">xxxx xxx xxxxx xx xxxx</text><text class="t" x="363" y="842" textLength="70" lengthAdjust="spacingAndGlyphs">xxxx xxx xxxxx xx</text><text class="t" x="360" y="844.5" textLength="88" lengthAdjust="spacingAndGlyphs">xxxx xxx xxxxx xx xxxx</text><text class="t" x="360" y="847" textLength="40" lengthAdjust="spacingAndGlyphs">xxxx xxx</text>
<text class="m" x="181" y="871.3" textLength="35" lengthAdjust="spacingAndGlyphs">xxxx xxx</text><text class="t" x="222" y="868.3" textLength="68" lengthAdjust="spacingAndGlyphs">xxxx xxx xxxxx xx</text><text class="t" x="222" y="871" textLength="62" lengthAdjust="spacingAndGlyphs">xxxx xxx xxxxx xx</text><text class="t" x="222" y="873.7" textLength="50" lengthAdjust="spacingAndGlyphs">xxxx xxx xxxxx</text>
<rect class="pl" x="300" y="868.7" width="15" height="2.6" rx="1.3"/>
<rect class="bx" x="330" y="852.5" width="110" height="39"/><text class="t" x="332" y="855" textLength="100" lengthAdjust="spacingAndGlyphs">xxxx xxx xxxxx xx xxxx xxxxx</text><text class="t" x="332" y="857.5" textLength="90" lengthAdjust="spacingAndGlyphs">xxxx xxx xxxxx xx xxxx xxxxx</text><text class="t" x="335" y="860" textLength="80" lengthAdjust="spacingAndGlyphs">xxxx xxx xxxxx xx xxxx</text><text class="t" x="335" y="862.5" textLength="95" lengthAdjust="spacingAndGlyphs">xxxx xxx xxxxx xx xxxx xxxxx</text><text class="t" x="338" y="865" textLength="70" lengthAdjust="spacingAndGlyphs">xxxx xxx xxxxx xx</text><text class="t" x="338" y="867.5" textLength="85" lengthAdjust="spacingAndGlyphs">xxxx xxx xxxxx xx xxxx</text><text class="t" x="335" y="870" textLength="100" lengthAdjust="spacingAndGlyphs">xxxx xxx xxxxx xx xxxx xxxxx</text><text class="t" x="335" y="872.5" textLength="60" lengthAdjust="spacingAndGlyphs">xxxx xxx xxxxx</text><text class="t" x="332" y="875" textLength="98" lengthAdjust="spacingAndGlyphs">xxxx xxx xxxxx xx xxxx xxxxx</text><text class="t" x="332" y="877.5" textLength="80" lengthAdjust="spacingAndGlyphs">xxxx xxx xxxxx xx xxxx</text><text class="t" x="335" y="880" textLength="90" lengthAdjust="spacingAndGlyphs">xxxx xxx xxxxx xx xxxx xxxxx</text><text class="t" x="335" y="882.5" textLength="70" lengthAdjust="spacingAndGlyphs">xxxx xxx xxxxx xx</text><text class="t" x="332" y="885" textLength="95" lengthAdjust="spacingAndGlyphs">xxxx xxx xxxxx xx xxxx xxxxx</text><text class="t" x="332" y="887.5" textLength="60" lengthAdjust="spacingAndGlyphs">xxxx xxx xxxxx</text><text class="t" x="332" y="890" textLength="30" lengthAdjust="spacingAndGlyphs">xxxx</text></g>
</g>
<g id="n8">
<text class="h" x="101" y="944.3" textLength="8" lengthAdjust="spacingAndGlyphs">xxx</text>
<text class="m" x="120" y="944.3" textLength="42" lengthAdjust="spacingAndGlyphs">xxxx xxx xxxxx xx</text>
<g id="n8-1"><text class="h" x="171" y="913.3" textLength="6" lengthAdjust="spacingAndGlyphs">xxx</text><text class="m" x="180" y="913.3" textLength="38" lengthAdjust="spacingAndGlyphs">xxxx xxx xxxxx</text><text class="t" x="227" y="909.8" textLength="71" lengthAdjust="spacingAndGlyphs">xxxx xxx xxxxx xx xxxx</text><text class="t" x="227" y="912.5" textLength="65" lengthAdjust="spacingAndGlyphs">xxxx xxx xxxxx xx</text><text class="t" x="227" y="915.2" textLength="50" lengthAdjust="spacingAndGlyphs">xxxx xxx xxxxx</text>
<text class="t" x="308" y="906.6" textLength="80" lengthAdjust="spacingAndGlyphs">xxxx xxx xxxxx xx xxxx</text><text class="t" x="308" y="909.6" textLength="92" lengthAdjust="spacingAndGlyphs">xxxx xxx xxxxx xx xxxx xxxxx</text><text class="t" x="308" y="912.6" textLength="85" lengthAdjust="spacingAndGlyphs">xxxx xxx xxxxx xx xxxx</text><text class="t" x="308" y="915.6" textLength="90" lengthAdjust="spacingAndGlyphs">xxxx xxx xxxxx xx xxxx xxxxx</text><text class="t" x="308" y="918.6" textLength="60" lengthAdjust="spacingAndGlyphs">xxxx xxx xxxxx</text>
<rect class="pl" x="462" y="933.7" width="16" height="2.6" rx="1.3"/>
<rect class="bx" x="488" y="893" width="87" height="72"/><text class="t" x="490" y="895.6" textLength="80" lengthAdjust="spacingAndGlyphs">xxxx xxx xxxxx xx xxxx</text><text class="t" x="490" y="898.2" textLength="60" lengthAdjust="spacingAndGlyphs">xxxx xxx xxxxx</text><text class="t" x="493" y="900.8" textLength="76" lengthAdjust="spacingAndGlyphs">xxxx xxx xxxxx xx xxxx</text><text class="t" x="493" y="903.4" textLength="70" lengthAdjust="spacingAndGlyphs">xxxx xxx xxxxx xx</text><text class="t" x="496" y="906" textLength="60" lengthAdjust="spacingAndGlyphs">xxxx xxx xxxxx</text><text class="t" x="496" y="908.6" textLength="72" lengthAdjust="spacingAndGlyphs">xxxx xxx xxxxx xx</text><text class="t" x="493" y="911.2" textLength="78" lengthAdjust="spacingAndGlyphs">xxxx xxx xxxxx xx xxxx</text><text class="t" x="490" y="913.8" textLength="50" lengthAdjust="spacingAndGlyphs">xxxx xxx</text><text class="t" x="490" y="916.4" textLength="80" lengthAdjust="spacingAndGlyphs">xxxx xxx xxxxx xx xxxx</text><text class="t" x="493" y="919" textLength="74" lengthAdjust="spacingAndGlyphs">xxxx xxx xxxxx xx</text><text class="t" x="496" y="921.6" textLength="64" lengthAdjust="spacingAndGlyphs">xxxx xxx xxxxx</text><text class="t" x="496" y="924.2" textLength="70" lengthAdjust="spacingAndGlyphs">xxxx xxx xxxxx xx</text><text class="t" x="493" y="926.8" textLength="76" lengthAdjust="spacingAndGlyphs">xxxx xxx xxxxx xx</text><text class="t" x="490" y="929.4" textLength="40" lengthAdjust="spacingAndGlyphs">xxxx xxx</text><text class="t" x="490" y="932" textLength="80" lengthAdjust="spacingAndGlyphs">xxxx xxx xxxxx xx xxxx</text><text class="t" x="493" y="934.6" textLength="72" lengthAdjust="spacingAndGlyphs">xxxx xxx xxxxx xx</text><text class="t" x="496" y="937.2" textLength="66" lengthAdjust="spacingAndGlyphs">xxxx xxx xxxxx</text><text class="t" x="496" y="939.8" textLength="58" lengthAdjust="spacingAndGlyphs">xxxx xxx xxxxx</text><text class="t" x="493" y="942.4" textLength="78" lengthAdjust="spacingAndGlyphs">xxxx xxx xxxxx xx</text><text class="t" x="490" y="945" textLength="48" lengthAdjust="spacingAndGlyphs">xxxx xxx</text><text class="t" x="490" y="947.6" textLength="80" lengthAdjust="spacingAndGlyphs">xxxx xxx xxxxx xx xxxx</text><text class="t" x="493" y="950.2" textLength="70" lengthAdjust="spacingAndGlyphs">xxxx xxx xxxxx xx</text><text class="t" x="496" y="952.8" textLength="62" lengthAdjust="spacingAndGlyphs">xxxx xxx xxxxx</text><text class="t" x="493" y="955.4" textLength="74" lengthAdjust="spacingAndGlyphs">xxxx xxx xxxxx xx</text><text class="t" x="490" y="958" textLength="56" lengthAdjust="spacingAndGlyphs">xxxx xxx xxxxx</text><text class="t" x="490" y="960.6" textLength="30" lengthAdjust="spacingAndGlyphs">xxxx</text><text class="t" x="490" y="963.2" textLength="14" lengthAdjust="spacingAndGlyphs">xx</text></g>
<g id="n8-2"><text class="h" x="171" y="923.3" textLength="6" lengthAdjust="spacingAndGlyphs">xxx</text><text class="m" x="180" y="923.3" textLength="37" lengthAdjust="spacingAndGlyphs">xxxx xxx xxxxx</text><text class="t" x="228" y="921.8" textLength="67" lengthAdjust="spacingAndGlyphs">xxxx xxx xxxxx xx</text><text class="t" x="228" y="924.5" textLength="55" lengthAdjust="spacingAndGlyphs">xxxx xxx xxxxx</text>
<rect class="bx" x="306" y="920.3" width="112" height="4.2"/><text class="t" x="308" y="923.2" textLength="105" lengthAdjust="spacingAndGlyphs">xxxx xxx xxxxx xx xxxx xxxxx</text>
<rect class="bx" x="306" y="925" width="112" height="4.2"/><text class="t" x="308" y="927.9" textLength="96" lengthAdjust="spacingAndGlyphs">xxxx xxx xxxxx xx xxxx xxxxx</text></g>
<g id="n8-3"><text class="h" x="171" y="934.3" textLength="6" lengthAdjust="spacingAndGlyphs">xxx</text><text class="m" x="180" y="934.3" textLength="68" lengthAdjust="spacingAndGlyphs">xxxx xxx xxxxx xx xxxx</text><text class="t" x="257" y="931.3" textLength="68" lengthAdjust="spacingAndGlyphs">xxxx xxx xxxxx xx</text><text class="t" x="257" y="934" textLength="60" lengthAdjust="spacingAndGlyphs">xxxx xxx xxxxx xx</text><text class="t" x="257" y="936.7" textLength="50" lengthAdjust="spacingAndGlyphs">xxxx xxx xxxxx</text>
<rect class="bx" x="340" y="930.5" width="110" height="17"/><text class="t" x="342" y="933" textLength="104" lengthAdjust="spacingAndGlyphs">xxxx xxx xxxxx xx xxxx xxxxx</text><text class="t" x="342" y="935.5" textLength="90" lengthAdjust="spacingAndGlyphs">xxxx xxx xxxxx xx xxxx xxxxx</text><text class="t" x="345" y="938" textLength="80" lengthAdjust="spacingAndGlyphs">xxxx xxx xxxxx xx xxxx</text><text class="t" x="345" y="940.5" textLength="98" lengthAdjust="spacingAndGlyphs">xxxx xxx xxxxx xx xxxx xxxxx</text><text class="t" x="342" y="943" textLength="70" lengthAdjust="spacingAndGlyphs">xxxx xxx xxxxx xx</text><text class="t" x="342" y="945.5" textLength="40" lengthAdjust="spacingAndGlyphs">xxxx xxx</text></g>
<g id="n8-4"><text class="m" x="171" y="974.3" textLength="12" lengthAdjust="spacingAndGlyphs">xxxx</text>
<text class="m" x="192" y="949.3" textLength="40" lengthAdjust="spacingAndGlyphs">xxxx xxx xxxxx</text><text class="t" x="242" y="947.8" textLength="56" lengthAdjust="spacingAndGlyphs">xxxx xxx xxxxx</text><text class="t" x="242" y="950.5" textLength="50" lengthAdjust="spacingAndGlyphs">xxxx xxx xxxxx</text>
<rect class="bx" x="322" y="950" width="123" height="25.5"/><text class="t" x="324" y="952.5" textLength="115" lengthAdjust="spacingAndGlyphs">xxxx xxx xxxxx xx xxxx xxxxx xxx</text><text class="t" x="324" y="955" textLength="100" lengthAdjust="spacingAndGlyphs">xxxx xxx xxxxx xx xxxx xxxxx</text><text class="t" x="327" y="957.5" textLength="90" lengthAdjust="spacingAndGlyphs">xxxx xxx xxxxx xx xxxx</text><text class="t" x="327" y="960" textLength="108" lengthAdjust="spacingAndGlyphs">xxxx xxx xxxxx xx xxxx xxxxx xxx</text><text class="t" x="330" y="962.5" textLength="80" lengthAdjust="spacingAndGlyphs">xxxx xxx xxxxx xx xxxx</text><text class="t" x="330" y="965" textLength="95" lengthAdjust="spacingAndGlyphs">xxxx xxx xxxxx xx xxxx xxxxx</text><text class="t" x="327" y="967.5" textLength="100" lengthAdjust="spacingAndGlyphs">xxxx xxx xxxxx xx xxxx xxxxx</text><text class="t" x="324" y="970" textLength="70" lengthAdjust="spacingAndGlyphs">xxxx xxx xxxxx xx</text><text class="t" x="324" y="972.5" textLength="40" lengthAdjust="spacingAndGlyphs">xxxx xxx</text>
<text class="m" x="192" y="991.3" textLength="55" lengthAdjust="spacingAndGlyphs">xxxx xxx xxxxx xx</text><text class="t" x="260" y="988.8" textLength="60" lengthAdjust="spacingAndGlyphs">xxxx xxx xxxxx xx</text><text class="t" x="260" y="991.3" textLength="62" lengthAdjust="spacingAndGlyphs">xxxx xxx xxxxx xx</text><text class="t" x="260" y="993.8" textLength="50" lengthAdjust="spacingAndGlyphs">xxxx xxx xxxxx</text>
<rect class="pl" x="330" y="988.7" width="15" height="2.6" rx="1.3"/>
<rect class="bx" x="350" y="978" width="130" height="20"/><text class="t" x="352" y="980.5" textLength="120" lengthAdjust="spacingAndGlyphs">xxxx xxx xxxxx xx xxxx xxxxx xxx</text><text class="t" x="352" y="983" textLength="110" lengthAdjust="spacingAndGlyphs">xxxx xxx xxxxx xx xxxx xxxxx</text><text class="t" x="355" y="985.5" textLength="100" lengthAdjust="spacingAndGlyphs">xxxx xxx xxxxx xx xxxx xxxxx</text><text class="t" x="355" y="988" textLength="115" lengthAdjust="spacingAndGlyphs">xxxx xxx xxxxx xx xxxx xxxxx xxx</text><text class="t" x="352" y="990.5" textLength="90" lengthAdjust="spacingAndGlyphs">xxxx xxx xxxxx xx xxxx</text><text class="t" x="352" y="993" textLength="105" lengthAdjust="spacingAndGlyphs">xxxx xxx xxxxx xx xxxx xxxxx</text><text class="t" x="352" y="995.5" textLength="50" lengthAdjust="spacingAndGlyphs">xxxx xxx xxxxx</text>
<text class="m" x="192" y="1006.3" textLength="40" lengthAdjust="spacingAndGlyphs">xxxx xxx xxxxx</text><text class="t" x="240" y="1004.8" textLength="60" lengthAdjust="spacingAndGlyphs">xxxx xxx xxxxx xx</text><text class="t" x="240" y="1007.5" textLength="55" lengthAdjust="spacingAndGlyphs">xxxx xxx xxxxx</text>
<rect class="bx" x="330" y="1000" width="90" height="12"/><text class="t" x="332" y="1002.5" textLength="84" lengthAdjust="spacingAndGlyphs">xxxx xxx xxxxx xx xxxx</text><text class="t" x="332" y="1005" textLength="75" lengthAdjust="spacingAndGlyphs">xxxx xxx xxxxx xx</text><text class="t" x="335" y="1007.5" textLength="70" lengthAdjust="spacingAndGlyphs">xxxx xxx xxxxx xx</text><text class="t" x="332" y="1010" textLength="40" lengthAdjust="spacingAndGlyphs">xxxx xxx</text></g>
</g>
<text x="350" y="1022" font-size="2.3" fill="#c4c4c4" textLength="70" lengthAdjust="spacingAndGlyphs">xxxx xxx xxxxx xx xxxx xxxxx</text>
</svg>
